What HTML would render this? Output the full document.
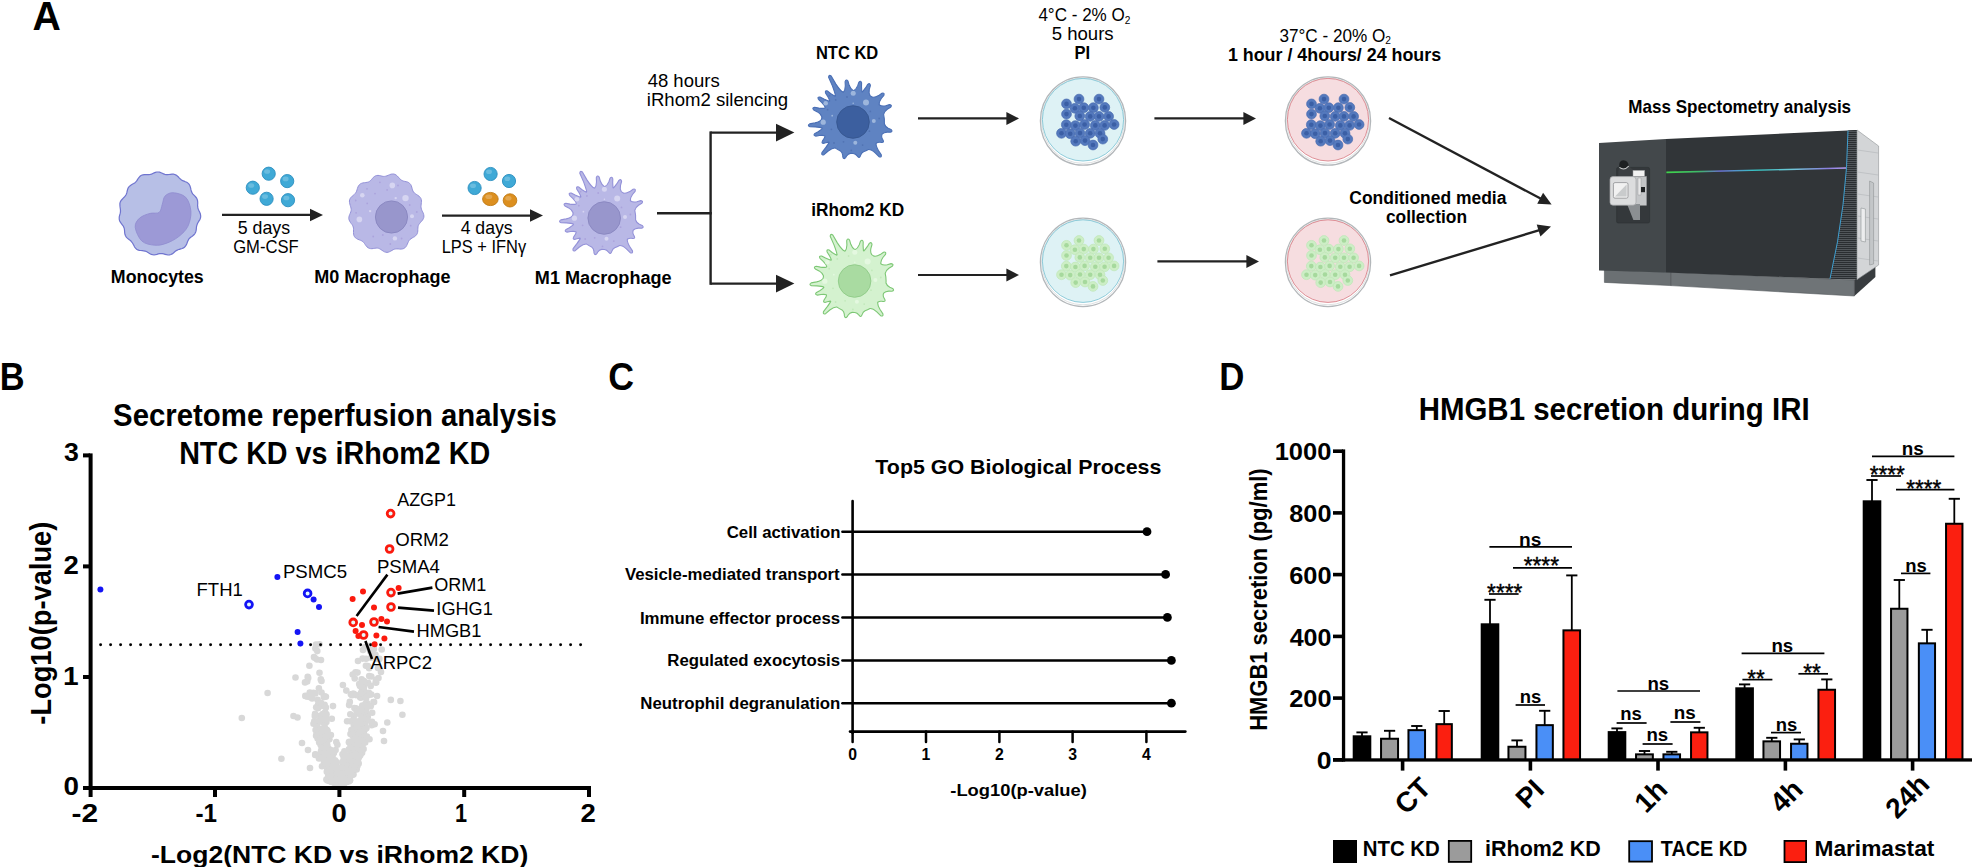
<!DOCTYPE html>
<html lang="en"><head><meta charset="utf-8"><title>Figure</title>
<style>
html,body{margin:0;padding:0;background:#fff}
body{width:1975px;height:867px;overflow:hidden}
svg{display:block}
svg text{font-family:"Liberation Sans",sans-serif}
</style></head><body>
<svg width="1975" height="867" viewBox="0 0 1975 867">
<rect width="1975" height="867" fill="#fff"/>
<g id="panelA">
<text x="32.42" y="29.8" font-size="41" font-weight="700" textLength="28.35" lengthAdjust="spacingAndGlyphs">A</text>
<path d="M200.3,213.7L200.6,215.2L200.7,216.7L200.4,218.2L199.8,219.6L199.0,220.9L198.2,222.2L197.5,223.5L197.0,224.9L196.6,226.2L196.4,227.7L196.3,229.1L196.1,230.6L195.7,232.0L195.1,233.3L194.2,234.5L193.1,235.5L191.9,236.4L190.7,237.2L189.6,238.2L188.8,239.2L188.1,240.4L187.5,241.8L187.0,243.2L186.4,244.6L185.6,245.9L184.7,247.0L183.5,247.9L182.2,248.5L180.8,248.9L179.4,249.3L178.0,249.8L176.8,250.4L175.6,251.1L174.5,252.0L173.4,253.0L172.2,253.9L170.9,254.5L169.5,254.9L168.0,255.0L166.6,254.7L165.1,254.3L163.7,253.9L162.3,253.6L160.9,253.5L159.6,253.6L158.3,253.9L156.9,254.3L155.5,254.6L154.0,254.8L152.6,254.7L151.3,254.4L150.0,253.7L148.8,253.0L147.6,252.2L146.4,251.5L145.1,251.1L143.7,250.8L142.3,250.6L140.8,250.5L139.3,250.3L137.8,249.9L136.6,249.2L135.5,248.2L134.6,247.0L133.9,245.6L133.2,244.2L132.5,243.0L131.6,241.8L130.7,240.8L129.6,239.9L128.4,239.1L127.3,238.1L126.3,237.1L125.5,235.8L125.0,234.5L124.7,233.0L124.6,231.5L124.5,230.0L124.3,228.6L123.8,227.3L123.2,226.0L122.3,224.8L121.4,223.6L120.5,222.4L119.7,221.0L119.3,219.6L119.2,218.1L119.3,216.6L119.7,215.2L120.1,213.7L120.4,212.3L120.5,210.9L120.4,209.4L120.2,207.9L120.0,206.4L119.9,204.9L119.9,203.4L120.3,202.0L121.0,200.7L122.0,199.5L123.0,198.3L124.1,197.3L125.1,196.2L125.9,195.0L126.5,193.8L126.9,192.4L127.2,191.0L127.6,189.5L128.1,188.1L128.9,186.9L129.9,185.9L131.1,185.0L132.3,184.3L133.6,183.6L134.7,182.9L135.8,181.9L136.7,180.9L137.5,179.6L138.3,178.3L139.3,177.1L140.3,176.0L141.5,175.2L142.9,174.8L144.4,174.6L145.9,174.6L147.4,174.6L148.8,174.6L150.2,174.4L151.5,174.1L152.8,173.5L154.1,172.9L155.4,172.4L156.8,172.0L158.2,172.0L159.6,172.2L161.0,172.7L162.3,173.3L163.6,173.9L164.9,174.4L166.2,174.6L167.6,174.7L169.0,174.5L170.5,174.3L172.0,174.1L173.4,174.2L174.8,174.5L176.1,175.1L177.3,176.0L178.4,177.0L179.4,178.1L180.4,179.0L181.5,179.9L182.7,180.6L184.1,181.1L185.4,181.7L186.8,182.3L188.0,183.1L189.0,184.2L189.8,185.5L190.3,186.9L190.7,188.4L191.0,189.9L191.4,191.3L192.0,192.6L192.7,193.8L193.7,194.8L194.7,195.9L195.7,197.0L196.6,198.1L197.2,199.5L197.6,200.9L197.7,202.3L197.7,203.8L197.6,205.3L197.7,206.7L197.9,208.1L198.4,209.5L199.0,210.8L199.7,212.2Z" fill="#b7bfe6" stroke="#6f74cf" stroke-width="1.2"/>
<path d="M173.1,192.7C176.5,192.9 182.7,194.2 185.7,197.3C188.7,200.4 190.5,206.3 190.9,211.1C191.3,215.9 190.0,221.9 188.0,226.1C186.0,230.3 182.5,233.6 178.8,236.5C175.2,239.4 170.1,242.0 166.1,243.4C162.1,244.8 158.6,245.6 154.6,245.2C150.6,244.8 145.1,244.1 141.9,241.1C138.7,238.1 135.6,231.1 135.2,227.3C134.8,223.5 137.1,220.4 139.6,218.1C142.1,215.8 146.7,214.3 150.0,213.4C153.3,212.5 157.1,213.9 159.2,212.4C161.2,210.9 161.3,206.9 162.3,204.2C163.3,201.5 163.2,198.0 165.0,196.1C166.8,194.2 169.7,192.5 173.1,192.7Z" fill="#9c99d6" stroke="#8f8bcf" stroke-width="0.8"/>
<ellipse cx="268.7" cy="173.7" rx="6.6" ry="6.6" fill="#3fa9d6" stroke="#2b8fbf" stroke-width="0.9"/>
<ellipse cx="267.09999999999997" cy="171.5" rx="3.0" ry="2.3" fill="#fff" opacity="0.22"/>
<ellipse cx="287.2" cy="181.1" rx="6.6" ry="6.6" fill="#3fa9d6" stroke="#2b8fbf" stroke-width="0.9"/>
<ellipse cx="285.59999999999997" cy="178.9" rx="3.0" ry="2.3" fill="#fff" opacity="0.22"/>
<ellipse cx="252.8" cy="187.7" rx="6.6" ry="6.6" fill="#3fa9d6" stroke="#2b8fbf" stroke-width="0.9"/>
<ellipse cx="251.20000000000002" cy="185.5" rx="3.0" ry="2.3" fill="#fff" opacity="0.22"/>
<ellipse cx="266.6" cy="198.8" rx="6.6" ry="6.6" fill="#3fa9d6" stroke="#2b8fbf" stroke-width="0.9"/>
<ellipse cx="265.0" cy="196.60000000000002" rx="3.0" ry="2.3" fill="#fff" opacity="0.22"/>
<ellipse cx="288" cy="200.2" rx="6.6" ry="6.6" fill="#3fa9d6" stroke="#2b8fbf" stroke-width="0.9"/>
<ellipse cx="286.4" cy="198.0" rx="3.0" ry="2.3" fill="#fff" opacity="0.22"/>
<ellipse cx="490.6" cy="174" rx="6.6" ry="6.6" fill="#3fa9d6" stroke="#2b8fbf" stroke-width="0.9"/>
<ellipse cx="489.0" cy="171.8" rx="3.0" ry="2.3" fill="#fff" opacity="0.22"/>
<ellipse cx="509" cy="181" rx="6.6" ry="6.6" fill="#3fa9d6" stroke="#2b8fbf" stroke-width="0.9"/>
<ellipse cx="507.4" cy="178.8" rx="3.0" ry="2.3" fill="#fff" opacity="0.22"/>
<ellipse cx="474.6" cy="188" rx="6.6" ry="6.6" fill="#3fa9d6" stroke="#2b8fbf" stroke-width="0.9"/>
<ellipse cx="473.0" cy="185.8" rx="3.0" ry="2.3" fill="#fff" opacity="0.22"/>
<ellipse cx="490.4" cy="199" rx="7.8" ry="6.6" fill="#dc8f1f" stroke="#c07a14" stroke-width="0.9"/>
<ellipse cx="488.79999999999995" cy="196.8" rx="3.5" ry="2.3" fill="#fff" opacity="0.22"/>
<ellipse cx="510" cy="200.4" rx="6.8" ry="6.6" fill="#dc8f1f" stroke="#c07a14" stroke-width="0.9"/>
<ellipse cx="508.4" cy="198.20000000000002" rx="3.1" ry="2.3" fill="#fff" opacity="0.22"/>
<line x1="222.0" y1="214.9" x2="311.0" y2="214.9" stroke="#222" stroke-width="2.4" stroke-linecap="butt"/>
<polygon points="323.0,214.9 310.0,221.2 310.0,208.7" fill="#222"/>
<line x1="442.0" y1="215.6" x2="531.0" y2="215.6" stroke="#222" stroke-width="2.4" stroke-linecap="butt"/>
<polygon points="543.0,215.6 530.0,221.8 530.0,209.3" fill="#222"/>
<text x="237.69" y="234.3" font-size="19" textLength="52.36" lengthAdjust="spacingAndGlyphs">5 days</text>
<text x="233.17" y="253.3" font-size="19" textLength="65.48" lengthAdjust="spacingAndGlyphs">GM-CSF</text>
<text x="460.65" y="234.0" font-size="19" textLength="51.99" lengthAdjust="spacingAndGlyphs">4 days</text>
<text x="441.69" y="253.0" font-size="19" textLength="84.41" lengthAdjust="spacingAndGlyphs">LPS + IFNγ</text>
<text x="110.84" y="283.2" font-size="18.3" font-weight="700" textLength="92.93" lengthAdjust="spacingAndGlyphs">Monocytes</text>
<text x="314.23" y="283.4" font-size="18.3" font-weight="700" textLength="136.25" lengthAdjust="spacingAndGlyphs">M0 Macrophage</text>
<text x="534.82" y="283.6" font-size="18.3" font-weight="700" textLength="136.85" lengthAdjust="spacingAndGlyphs">M1 Macrophage</text>
<path d="M423.3,213.2L423.7,214.6L423.9,216.0L423.8,217.4L423.3,218.7L422.6,220.0L421.6,221.1L420.6,222.3L419.7,223.4L418.9,224.4L418.3,225.6L418.0,226.8L417.9,228.1L417.8,229.5L417.8,231.0L417.6,232.4L417.2,233.7L416.5,234.8L415.6,235.8L414.5,236.7L413.3,237.3L412.1,238.0L411.0,238.7L410.0,239.4L409.2,240.4L408.5,241.5L407.9,242.8L407.3,244.2L406.7,245.5L405.9,246.8L404.9,247.8L403.8,248.5L402.5,248.9L401.1,249.1L399.6,249.1L398.2,248.9L396.8,248.9L395.5,249.0L394.3,249.2L393.2,249.7L392.0,250.4L390.8,251.1L389.6,251.7L388.3,252.2L387.0,252.4L385.7,252.2L384.4,251.8L383.2,251.1L382.0,250.3L380.8,249.5L379.7,248.8L378.5,248.3L377.4,248.1L376.1,248.1L374.8,248.3L373.4,248.5L371.9,248.7L370.5,248.6L369.2,248.3L368.0,247.7L367.0,246.9L366.1,245.8L365.3,244.7L364.5,243.5L363.7,242.5L362.8,241.6L361.8,240.9L360.5,240.3L359.2,239.8L357.9,239.3L356.6,238.6L355.4,237.8L354.5,236.7L353.9,235.5L353.6,234.1L353.5,232.6L353.5,231.0L353.5,229.6L353.5,228.2L353.2,226.9L352.7,225.7L352.1,224.6L351.2,223.5L350.4,222.4L349.7,221.2L349.1,219.9L348.8,218.6L348.9,217.2L349.2,215.9L349.7,214.5L350.3,213.2L350.8,211.9L351.1,210.7L351.2,209.4L351.0,208.1L350.7,206.8L350.2,205.3L349.8,203.9L349.5,202.4L349.4,201.0L349.7,199.6L350.3,198.3L351.2,197.2L352.2,196.2L353.3,195.3L354.4,194.4L355.3,193.4L356.0,192.3L356.6,191.2L357.0,189.9L357.4,188.5L357.9,187.1L358.5,185.9L359.3,184.8L360.3,183.9L361.6,183.3L362.9,182.9L364.4,182.7L365.8,182.5L367.2,182.3L368.4,182.0L369.5,181.4L370.5,180.6L371.4,179.7L372.3,178.6L373.2,177.5L374.3,176.6L375.4,175.9L376.7,175.5L378.0,175.4L379.3,175.5L380.7,175.8L382.0,176.2L383.2,176.4L384.5,176.4L385.7,176.2L387.0,175.8L388.2,175.3L389.6,174.7L391.0,174.2L392.4,174.0L393.7,174.0L395.0,174.4L396.2,175.1L397.3,176.0L398.3,177.1L399.3,178.2L400.2,179.2L401.2,180.0L402.3,180.6L403.5,181.1L404.8,181.4L406.1,181.7L407.5,182.0L408.7,182.6L409.7,183.4L410.6,184.4L411.3,185.7L411.7,187.0L412.1,188.4L412.5,189.8L412.9,191.0L413.6,192.1L414.4,193.0L415.5,193.8L416.7,194.6L417.9,195.4L419.1,196.2L420.1,197.3L420.9,198.4L421.3,199.7L421.5,201.1L421.4,202.5L421.2,204.0L421.1,205.4L421.0,206.7L421.1,208.0L421.5,209.3L422.0,210.6L422.6,211.9Z" fill="#b9b8e6" stroke="#9391d8" stroke-width="1"/>
<circle cx="392.3" cy="185.4" r="2.8" fill="#d6d5f1"/>
<circle cx="405.5" cy="198.1" r="3.2" fill="#d6d5f1"/>
<circle cx="362.3" cy="195.2" r="2.3" fill="#d6d5f1"/>
<circle cx="359.4" cy="219.4" r="2.8" fill="#d6d5f1"/>
<circle cx="412.0" cy="216.3" r="2.0" fill="#d6d5f1"/>
<circle cx="394.9" cy="238.4" r="2.2" fill="#d6d5f1"/>
<circle cx="395.7" cy="198.1" r="1.2" fill="#d6d5f1"/>
<circle cx="370.1" cy="211.1" r="1.2" fill="#d6d5f1"/>
<circle cx="375.0" cy="193.6" r="0.9" fill="#aba3dc"/>
<circle cx="387.1" cy="189.9" r="0.9" fill="#aba3dc"/>
<circle cx="367.0" cy="188.8" r="0.9" fill="#aba3dc"/>
<circle cx="367.2" cy="203.4" r="0.9" fill="#aba3dc"/>
<circle cx="409.7" cy="205.0" r="0.9" fill="#aba3dc"/>
<circle cx="416.8" cy="212.0" r="0.9" fill="#aba3dc"/>
<circle cx="410.7" cy="225.7" r="0.9" fill="#aba3dc"/>
<circle cx="401.6" cy="238.5" r="0.9" fill="#aba3dc"/>
<circle cx="390.3" cy="244.0" r="0.9" fill="#aba3dc"/>
<circle cx="373.2" cy="236.5" r="0.9" fill="#aba3dc"/>
<circle cx="382.8" cy="235.0" r="0.9" fill="#aba3dc"/>
<circle cx="356.1" cy="212.8" r="0.9" fill="#aba3dc"/>
<circle cx="355.7" cy="200.5" r="0.9" fill="#aba3dc"/>
<circle cx="379.9" cy="182.3" r="0.9" fill="#aba3dc"/>
<circle cx="398.0" cy="185.4" r="0.9" fill="#aba3dc"/>
<circle cx="391.5" cy="217" r="16.1" fill="#9896cc" stroke="#8886c0" stroke-width="0.9"/>
<path d="M634.8,210.4Q635.1,207.8 638.5,205.3L641.8,203.3Q643.8,200.9 640.7,200.6L636.9,201.7Q632.8,202.5 630.7,201.0A31.5,31.5 0 0 0 630.4,200.6Q630.0,198.1 632.5,194.5L635.1,191.4Q636.1,188.4 633.1,189.2L629.8,191.6Q626.0,193.8 623.5,193.1A31.5,31.5 0 0 0 621.3,191.6Q619.7,189.4 620.5,185.3L621.6,181.5Q621.3,178.4 618.9,180.4L616.9,183.7Q614.4,187.1 613.6,187.9A31.5,31.5 0 0 0 613.1,187.8Q612.9,186.7 612.7,182.7L612.8,178.9Q611.9,176.0 610.0,178.4L608.8,181.9Q607.2,185.6 604.9,186.5A31.5,31.5 0 0 0 604.3,186.5Q602.0,185.5 600.4,181.3L599.2,177.2Q597.3,174.7 596.3,177.7L596.5,181.9Q596.3,186.4 594.7,188.0A31.5,31.5 0 0 0 594.2,188.1Q591.6,186.9 587.1,180.1L582.4,172.0Q579.9,170.2 579.8,173.3L583.6,181.9Q586.4,189.5 586.7,191.8A31.5,31.5 0 0 0 586.3,192.1Q585.0,191.8 581.7,189.5L578.9,187.1Q576.0,186.0 576.7,189.0L578.7,192.1Q580.6,195.6 580.9,196.8A31.5,31.5 0 0 0 580.6,197.2Q579.3,196.9 575.1,195.1L571.2,193.0Q568.2,192.6 569.6,195.3L572.8,198.3Q576.0,201.6 576.3,203.4A31.5,31.5 0 0 0 576.0,203.9Q574.4,204.7 570.0,204.1L565.8,203.3Q562.8,203.7 564.9,206.0L568.7,207.9Q572.5,210.2 573.1,212.8A31.5,31.5 0 0 0 572.8,215.2Q571.4,217.6 566.2,218.9L560.8,219.9Q558.2,221.5 561.1,222.8L566.5,222.9Q571.8,223.4 573.3,224.0A31.5,31.5 0 0 0 573.4,224.6Q572.6,225.6 569.3,227.7L566.1,229.4Q563.9,231.6 567.0,232.1L570.6,231.5Q574.5,231.1 575.9,231.7A31.5,31.5 0 0 0 576.1,232.2Q576.1,233.5 574.6,235.5L573.7,236.9Q572.2,239.6 575.3,239.3L576.9,238.8Q579.3,238.3 580.0,238.1A31.5,31.5 0 0 0 580.3,238.6Q579.6,239.8 576.5,244.2L573.1,248.7Q572.3,251.7 575.2,250.7L579.4,247.0Q583.8,243.8 586.6,244.1A31.5,31.5 0 0 0 591.6,246.9Q593.6,248.4 593.9,251.1L594.0,252.9Q594.7,255.9 596.8,253.6L597.8,252.0Q599.3,249.8 601.7,249.4A31.5,31.5 0 0 0 604.5,249.5Q606.9,249.9 608.1,251.6L608.8,252.4Q610.7,254.8 611.6,251.9L612.0,250.9Q612.6,248.9 614.7,247.7A31.5,31.5 0 0 0 619.6,245.5Q622.4,245.3 626.4,248.8L630.2,252.7Q633.1,253.9 632.5,250.9L629.5,246.3Q627.0,241.7 627.3,239.4A31.5,31.5 0 0 0 627.7,239.0Q629.2,238.0 631.4,238.3L632.6,238.5Q635.7,238.8 634.2,236.0L633.6,235.0Q632.4,233.1 633.0,230.8A31.5,31.5 0 0 0 633.3,230.2Q634.9,228.2 638.5,228.1L641.5,228.2Q644.5,227.5 642.2,225.4L639.4,224.2Q636.3,222.5 635.6,220.0A31.5,31.5 0 0 0 634.8,210.4Z" fill="#b9b8e6" stroke="#9391d8" stroke-width="1.1" stroke-linejoin="round"/>
<circle cx="604.4" cy="189.2" r="2.5" fill="#d6d5f1"/>
<circle cx="617.2" cy="198.4" r="3.0" fill="#d6d5f1"/>
<circle cx="576.9" cy="199.2" r="2.3" fill="#d6d5f1"/>
<circle cx="574.4" cy="218.2" r="2.6" fill="#d6d5f1"/>
<circle cx="625.0" cy="217.1" r="2.0" fill="#d6d5f1"/>
<circle cx="606.5" cy="238.8" r="2.0" fill="#d6d5f1"/>
<circle cx="604.4" cy="199.3" r="0.8" fill="#d6d5f1"/>
<circle cx="583.4" cy="211.7" r="0.9" fill="#d6d5f1"/>
<circle cx="598.2" cy="193.0" r="0.9" fill="#aba3dc"/>
<circle cx="586.9" cy="195.9" r="0.9" fill="#aba3dc"/>
<circle cx="578.8" cy="205.7" r="0.9" fill="#aba3dc"/>
<circle cx="621.5" cy="207.4" r="0.9" fill="#aba3dc"/>
<circle cx="630.4" cy="214.5" r="0.9" fill="#aba3dc"/>
<circle cx="620.6" cy="227.2" r="0.9" fill="#aba3dc"/>
<circle cx="594.7" cy="237.8" r="0.9" fill="#aba3dc"/>
<circle cx="585.2" cy="239.0" r="0.9" fill="#aba3dc"/>
<circle cx="613.8" cy="241.1" r="0.9" fill="#aba3dc"/>
<circle cx="602.5" cy="246.4" r="0.9" fill="#aba3dc"/>
<circle cx="580.6" cy="191.7" r="0.9" fill="#aba3dc"/>
<circle cx="582.6" cy="225.3" r="0.9" fill="#aba3dc"/>
<circle cx="604.2" cy="218" r="16.3" fill="#9896cc" stroke="#8886c0" stroke-width="0.9"/>
<path d="M883.6,114.4Q883.9,111.8 887.3,109.3L890.6,107.3Q892.6,104.9 889.5,104.6L885.7,105.7Q881.6,106.5 879.5,105.0A31.5,31.5 0 0 0 879.2,104.6Q878.8,102.1 881.3,98.5L883.9,95.4Q884.9,92.4 881.9,93.2L878.6,95.6Q874.8,97.8 872.3,97.1A31.5,31.5 0 0 0 870.1,95.6Q868.5,93.4 869.3,89.3L870.4,85.5Q870.1,82.4 867.7,84.4L865.7,87.7Q863.2,91.1 862.4,91.9A31.5,31.5 0 0 0 861.9,91.8Q861.7,90.7 861.5,86.7L861.6,82.9Q860.7,80.0 858.8,82.4L857.6,85.9Q856.0,89.6 853.7,90.5A31.5,31.5 0 0 0 853.1,90.5Q850.8,89.5 849.2,85.3L848.0,81.2Q846.1,78.7 845.1,81.7L845.3,85.9Q845.1,90.4 843.5,92.0A31.5,31.5 0 0 0 843.0,92.1Q840.4,90.9 835.9,84.1L831.2,76.0Q828.7,74.2 828.6,77.3L832.4,85.9Q835.2,93.5 835.5,95.8A31.5,31.5 0 0 0 835.1,96.1Q833.8,95.8 830.5,93.5L827.7,91.1Q824.8,90.0 825.5,93.0L827.5,96.1Q829.4,99.6 829.7,100.8A31.5,31.5 0 0 0 829.4,101.2Q828.1,100.9 823.9,99.1L820.0,97.0Q817.0,96.6 818.4,99.3L821.6,102.3Q824.8,105.6 825.1,107.4A31.5,31.5 0 0 0 824.8,107.9Q823.2,108.7 818.8,108.1L814.6,107.3Q811.6,107.7 813.7,110.0L817.5,111.9Q821.3,114.2 821.9,116.8A31.5,31.5 0 0 0 821.6,119.2Q820.2,121.6 815.0,122.9L809.6,123.9Q807.0,125.5 809.9,126.8L815.3,126.9Q820.6,127.4 822.1,128.0A31.5,31.5 0 0 0 822.2,128.6Q821.4,129.6 818.1,131.7L814.9,133.4Q812.7,135.6 815.8,136.1L819.4,135.5Q823.3,135.1 824.7,135.7A31.5,31.5 0 0 0 824.9,136.2Q824.9,137.5 823.4,139.5L822.5,140.9Q821.0,143.6 824.1,143.3L825.7,142.8Q828.1,142.3 828.8,142.1A31.5,31.5 0 0 0 829.1,142.6Q828.4,143.8 825.3,148.2L821.9,152.7Q821.1,155.7 824.0,154.7L828.2,151.0Q832.6,147.8 835.4,148.1A31.5,31.5 0 0 0 840.4,150.9Q842.4,152.4 842.7,155.1L842.8,156.9Q843.5,159.9 845.6,157.6L846.6,156.0Q848.1,153.8 850.5,153.4A31.5,31.5 0 0 0 853.3,153.5Q855.7,153.9 856.9,155.6L857.6,156.4Q859.5,158.8 860.4,155.9L860.8,154.9Q861.4,152.9 863.5,151.7A31.5,31.5 0 0 0 868.4,149.5Q871.2,149.3 875.2,152.8L879.0,156.7Q881.9,157.9 881.3,154.9L878.3,150.3Q875.8,145.7 876.1,143.4A31.5,31.5 0 0 0 876.5,143.0Q878.0,142.0 880.2,142.3L881.4,142.5Q884.5,142.8 883.0,140.0L882.4,139.0Q881.2,137.1 881.8,134.8A31.5,31.5 0 0 0 882.1,134.2Q883.7,132.2 887.3,132.1L890.3,132.2Q893.3,131.5 891.0,129.4L888.2,128.2Q885.1,126.5 884.4,124.0A31.5,31.5 0 0 0 883.6,114.4Z" fill="#5f83c2" stroke="#4a6fb5" stroke-width="1.1" stroke-linejoin="round"/>
<circle cx="853.2" cy="93.2" r="2.5" fill="#9db6dc"/>
<circle cx="866.0" cy="102.4" r="3.0" fill="#9db6dc"/>
<circle cx="825.7" cy="103.2" r="2.3" fill="#9db6dc"/>
<circle cx="823.2" cy="122.2" r="2.6" fill="#9db6dc"/>
<circle cx="873.8" cy="121.1" r="2.0" fill="#9db6dc"/>
<circle cx="855.3" cy="142.8" r="2.0" fill="#9db6dc"/>
<circle cx="853.2" cy="103.3" r="0.8" fill="#9db6dc"/>
<circle cx="832.2" cy="115.7" r="0.9" fill="#9db6dc"/>
<circle cx="847.0" cy="97.0" r="0.9" fill="#5173b3"/>
<circle cx="835.7" cy="99.9" r="0.9" fill="#5173b3"/>
<circle cx="827.6" cy="109.7" r="0.9" fill="#5173b3"/>
<circle cx="870.3" cy="111.4" r="0.9" fill="#5173b3"/>
<circle cx="879.2" cy="118.5" r="0.9" fill="#5173b3"/>
<circle cx="869.4" cy="131.2" r="0.9" fill="#5173b3"/>
<circle cx="843.5" cy="141.8" r="0.9" fill="#5173b3"/>
<circle cx="834.0" cy="143.0" r="0.9" fill="#5173b3"/>
<circle cx="862.6" cy="145.1" r="0.9" fill="#5173b3"/>
<circle cx="851.3" cy="150.4" r="0.9" fill="#5173b3"/>
<circle cx="829.4" cy="95.7" r="0.9" fill="#5173b3"/>
<circle cx="831.4" cy="129.3" r="0.9" fill="#5173b3"/>
<circle cx="853" cy="122" r="16.3" fill="#3c5f9f" stroke="#35568f" stroke-width="0.9"/>
<path d="M885.2,273.4Q885.5,270.8 888.9,268.3L892.2,266.3Q894.2,263.9 891.1,263.6L887.3,264.7Q883.2,265.5 881.1,264.0A31.5,31.5 0 0 0 880.8,263.6Q880.4,261.1 882.9,257.5L885.5,254.4Q886.5,251.4 883.5,252.2L880.2,254.6Q876.4,256.8 873.9,256.1A31.5,31.5 0 0 0 871.7,254.6Q870.1,252.4 870.9,248.3L872.0,244.5Q871.7,241.4 869.3,243.4L867.3,246.7Q864.8,250.1 864.0,250.9A31.5,31.5 0 0 0 863.5,250.8Q863.3,249.7 863.1,245.7L863.2,241.9Q862.3,239.0 860.4,241.4L859.2,244.9Q857.6,248.6 855.3,249.5A31.5,31.5 0 0 0 854.7,249.5Q852.4,248.5 850.8,244.3L849.6,240.2Q847.7,237.7 846.7,240.7L846.9,244.9Q846.7,249.4 845.1,251.0A31.5,31.5 0 0 0 844.6,251.1Q842.0,249.9 837.5,243.1L832.8,235.0Q830.3,233.2 830.2,236.3L834.0,244.9Q836.8,252.5 837.1,254.8A31.5,31.5 0 0 0 836.7,255.1Q835.4,254.8 832.1,252.5L829.3,250.1Q826.4,249.0 827.1,252.0L829.1,255.1Q831.0,258.6 831.3,259.8A31.5,31.5 0 0 0 831.0,260.2Q829.7,259.9 825.5,258.1L821.6,256.0Q818.6,255.6 820.0,258.3L823.2,261.3Q826.4,264.6 826.7,266.4A31.5,31.5 0 0 0 826.4,266.9Q824.8,267.7 820.4,267.1L816.2,266.3Q813.2,266.7 815.3,269.0L819.1,270.9Q822.9,273.2 823.5,275.8A31.5,31.5 0 0 0 823.2,278.2Q821.8,280.6 816.6,281.9L811.2,282.9Q808.6,284.5 811.5,285.8L816.9,285.9Q822.2,286.4 823.7,287.0A31.5,31.5 0 0 0 823.8,287.6Q823.0,288.6 819.7,290.7L816.5,292.4Q814.3,294.6 817.4,295.1L821.0,294.5Q824.9,294.1 826.3,294.7A31.5,31.5 0 0 0 826.5,295.2Q826.5,296.5 825.0,298.5L824.1,299.9Q822.6,302.6 825.7,302.3L827.3,301.8Q829.7,301.3 830.4,301.1A31.5,31.5 0 0 0 830.7,301.6Q830.0,302.8 826.9,307.2L823.5,311.7Q822.7,314.7 825.6,313.7L829.8,310.0Q834.2,306.8 837.0,307.1A31.5,31.5 0 0 0 842.0,309.9Q844.0,311.4 844.3,314.1L844.4,315.9Q845.1,318.9 847.2,316.6L848.2,315.0Q849.7,312.8 852.1,312.4A31.5,31.5 0 0 0 854.9,312.5Q857.3,312.9 858.5,314.6L859.2,315.4Q861.1,317.8 862.0,314.9L862.4,313.9Q863.0,311.9 865.1,310.7A31.5,31.5 0 0 0 870.0,308.5Q872.8,308.3 876.8,311.8L880.6,315.7Q883.5,316.9 882.9,313.9L879.9,309.3Q877.4,304.7 877.7,302.4A31.5,31.5 0 0 0 878.1,302.0Q879.6,301.0 881.8,301.3L883.0,301.5Q886.1,301.8 884.6,299.0L884.0,298.0Q882.8,296.1 883.4,293.8A31.5,31.5 0 0 0 883.7,293.2Q885.3,291.2 888.9,291.1L891.9,291.2Q894.9,290.5 892.6,288.4L889.8,287.2Q886.7,285.5 886.0,283.0A31.5,31.5 0 0 0 885.2,273.4Z" fill="#d4f2cf" stroke="#7dc775" stroke-width="1.1" stroke-linejoin="round"/>
<circle cx="854.8" cy="252.2" r="2.5" fill="#e4f8e0"/>
<circle cx="867.6" cy="261.4" r="3.0" fill="#e4f8e0"/>
<circle cx="827.3" cy="262.2" r="2.3" fill="#e4f8e0"/>
<circle cx="824.8" cy="281.2" r="2.6" fill="#e4f8e0"/>
<circle cx="875.4" cy="280.1" r="2.0" fill="#e4f8e0"/>
<circle cx="856.9" cy="301.8" r="2.0" fill="#e4f8e0"/>
<circle cx="854.8" cy="262.3" r="0.8" fill="#e4f8e0"/>
<circle cx="833.8" cy="274.7" r="0.9" fill="#e4f8e0"/>
<circle cx="848.6" cy="256.0" r="0.9" fill="#c2e9bb"/>
<circle cx="837.3" cy="258.9" r="0.9" fill="#c2e9bb"/>
<circle cx="829.2" cy="268.7" r="0.9" fill="#c2e9bb"/>
<circle cx="871.9" cy="270.4" r="0.9" fill="#c2e9bb"/>
<circle cx="880.8" cy="277.5" r="0.9" fill="#c2e9bb"/>
<circle cx="871.0" cy="290.2" r="0.9" fill="#c2e9bb"/>
<circle cx="845.1" cy="300.8" r="0.9" fill="#c2e9bb"/>
<circle cx="835.6" cy="302.0" r="0.9" fill="#c2e9bb"/>
<circle cx="864.2" cy="304.1" r="0.9" fill="#c2e9bb"/>
<circle cx="852.9" cy="309.4" r="0.9" fill="#c2e9bb"/>
<circle cx="831.0" cy="254.7" r="0.9" fill="#c2e9bb"/>
<circle cx="833.0" cy="288.3" r="0.9" fill="#c2e9bb"/>
<circle cx="854.6" cy="281" r="16.3" fill="#a9dba1" stroke="#8fcb87" stroke-width="0.9"/>
<line x1="657.0" y1="213.2" x2="711.8" y2="213.2" stroke="#222" stroke-width="2.4" stroke-linecap="butt"/>
<line x1="710.6" y1="131.4" x2="710.6" y2="284.8" stroke="#222" stroke-width="2.4" stroke-linecap="butt"/>
<line x1="710.6" y1="132.6" x2="777.0" y2="132.6" stroke="#222" stroke-width="2.4" stroke-linecap="butt"/>
<polygon points="794.4,132.6 776.0,141.4 776.0,123.8" fill="#222"/>
<line x1="710.6" y1="283.6" x2="777.0" y2="283.6" stroke="#222" stroke-width="2.4" stroke-linecap="butt"/>
<polygon points="794.4,283.6 776.0,292.4 776.0,274.8" fill="#222"/>
<text x="647.63" y="87.4" font-size="19" textLength="72.05" lengthAdjust="spacingAndGlyphs">48 hours</text>
<text x="646.79" y="106.4" font-size="19" textLength="141.41" lengthAdjust="spacingAndGlyphs">iRhom2 silencing</text>
<text x="815.93" y="59.0" font-size="18.3" font-weight="700" textLength="62.37" lengthAdjust="spacingAndGlyphs">NTC KD</text>
<text x="811.19" y="216.0" font-size="18.3" font-weight="700" textLength="92.97" lengthAdjust="spacingAndGlyphs">iRhom2 KD</text>
<line x1="918.0" y1="118.4" x2="1007.4" y2="118.4" stroke="#222" stroke-width="2.2" stroke-linecap="butt"/>
<polygon points="1019.0,118.4 1006.4,124.9 1006.4,111.9" fill="#222"/>
<line x1="1154.4" y1="118.4" x2="1244.4" y2="118.4" stroke="#222" stroke-width="2.2" stroke-linecap="butt"/>
<polygon points="1256.0,118.4 1243.4,124.9 1243.4,111.9" fill="#222"/>
<line x1="918.0" y1="275.0" x2="1007.4" y2="275.0" stroke="#222" stroke-width="2.2" stroke-linecap="butt"/>
<polygon points="1019.0,275.0 1006.4,281.5 1006.4,268.5" fill="#222"/>
<line x1="1157.4" y1="261.4" x2="1247.4" y2="261.4" stroke="#222" stroke-width="2.2" stroke-linecap="butt"/>
<polygon points="1259.0,261.4 1246.4,267.9 1246.4,254.9" fill="#222"/>
<line x1="1389.0" y1="118.0" x2="1541.0" y2="198.8" stroke="#222" stroke-width="2.4" stroke-linecap="butt"/>
<polygon points="1551.6,204.4 1537.2,203.8 1543.1,192.8" fill="#222"/>
<line x1="1390.0" y1="275.4" x2="1539.5" y2="230.1" stroke="#222" stroke-width="2.4" stroke-linecap="butt"/>
<polygon points="1551.0,226.6 1540.4,236.4 1536.7,224.4" fill="#222"/>
<ellipse cx="1083" cy="121" rx="42.6" ry="44.2" fill="#fff" stroke="#b3b7ba" stroke-width="1.3"/>
<ellipse cx="1083" cy="120.6" rx="41.4" ry="42.8" fill="none" stroke="#d5d9db" stroke-width="0.8"/>
<ellipse cx="1083" cy="119.7" rx="40.6" ry="41.3" fill="#def2f5" stroke="#74bfd0" stroke-width="0.8"/>
<circle cx="1079.0" cy="99.1" r="4.9" fill="#5479bd" stroke="#4a6db0" stroke-width="0.7"/>
<circle cx="1099.0" cy="99.1" r="4.9" fill="#5479bd" stroke="#4a6db0" stroke-width="0.7"/>
<circle cx="1066.5" cy="103.9" r="4.9" fill="#5479bd" stroke="#4a6db0" stroke-width="0.7"/>
<circle cx="1074.9" cy="108.3" r="4.9" fill="#5479bd" stroke="#4a6db0" stroke-width="0.7"/>
<circle cx="1083.8" cy="107.7" r="4.9" fill="#5479bd" stroke="#4a6db0" stroke-width="0.7"/>
<circle cx="1093.4" cy="107.7" r="4.9" fill="#5479bd" stroke="#4a6db0" stroke-width="0.7"/>
<circle cx="1104.8" cy="107.4" r="4.9" fill="#5479bd" stroke="#4a6db0" stroke-width="0.7"/>
<circle cx="1066.5" cy="114.1" r="4.9" fill="#5479bd" stroke="#4a6db0" stroke-width="0.7"/>
<circle cx="1079.8" cy="116.0" r="4.9" fill="#5479bd" stroke="#4a6db0" stroke-width="0.7"/>
<circle cx="1090.2" cy="116.4" r="4.9" fill="#5479bd" stroke="#4a6db0" stroke-width="0.7"/>
<circle cx="1099.0" cy="116.4" r="4.9" fill="#5479bd" stroke="#4a6db0" stroke-width="0.7"/>
<circle cx="1108.6" cy="116.4" r="4.9" fill="#5479bd" stroke="#4a6db0" stroke-width="0.7"/>
<circle cx="1066.3" cy="124.7" r="4.9" fill="#5479bd" stroke="#4a6db0" stroke-width="0.7"/>
<circle cx="1075.4" cy="125.6" r="4.9" fill="#5479bd" stroke="#4a6db0" stroke-width="0.7"/>
<circle cx="1084.6" cy="124.5" r="4.9" fill="#5479bd" stroke="#4a6db0" stroke-width="0.7"/>
<circle cx="1095.3" cy="125.4" r="4.9" fill="#5479bd" stroke="#4a6db0" stroke-width="0.7"/>
<circle cx="1104.6" cy="125.4" r="4.9" fill="#5479bd" stroke="#4a6db0" stroke-width="0.7"/>
<circle cx="1114.1" cy="124.5" r="4.9" fill="#5479bd" stroke="#4a6db0" stroke-width="0.7"/>
<circle cx="1061.5" cy="133.3" r="4.9" fill="#5479bd" stroke="#4a6db0" stroke-width="0.7"/>
<circle cx="1070.2" cy="133.7" r="4.9" fill="#5479bd" stroke="#4a6db0" stroke-width="0.7"/>
<circle cx="1080.0" cy="133.1" r="4.9" fill="#5479bd" stroke="#4a6db0" stroke-width="0.7"/>
<circle cx="1090.2" cy="133.3" r="4.9" fill="#5479bd" stroke="#4a6db0" stroke-width="0.7"/>
<circle cx="1100.0" cy="133.3" r="4.9" fill="#5479bd" stroke="#4a6db0" stroke-width="0.7"/>
<circle cx="1075.7" cy="141.2" r="4.9" fill="#5479bd" stroke="#4a6db0" stroke-width="0.7"/>
<circle cx="1085.0" cy="140.6" r="4.9" fill="#5479bd" stroke="#4a6db0" stroke-width="0.7"/>
<circle cx="1102.8" cy="139.1" r="4.9" fill="#5479bd" stroke="#4a6db0" stroke-width="0.7"/>
<circle cx="1093.0" cy="145.0" r="4.9" fill="#5479bd" stroke="#4a6db0" stroke-width="0.7"/>
<circle cx="1079.0" cy="99.1" r="2.3" fill="#3b5fa5"/>
<circle cx="1099.0" cy="99.1" r="2.3" fill="#3b5fa5"/>
<circle cx="1066.5" cy="103.9" r="2.3" fill="#3b5fa5"/>
<circle cx="1074.9" cy="108.3" r="2.3" fill="#3b5fa5"/>
<circle cx="1083.8" cy="107.7" r="2.3" fill="#3b5fa5"/>
<circle cx="1093.4" cy="107.7" r="2.3" fill="#3b5fa5"/>
<circle cx="1104.8" cy="107.4" r="2.3" fill="#3b5fa5"/>
<circle cx="1066.5" cy="114.1" r="2.3" fill="#3b5fa5"/>
<circle cx="1079.8" cy="116.0" r="2.3" fill="#3b5fa5"/>
<circle cx="1090.2" cy="116.4" r="2.3" fill="#3b5fa5"/>
<circle cx="1099.0" cy="116.4" r="2.3" fill="#3b5fa5"/>
<circle cx="1108.6" cy="116.4" r="2.3" fill="#3b5fa5"/>
<circle cx="1066.3" cy="124.7" r="2.3" fill="#3b5fa5"/>
<circle cx="1075.4" cy="125.6" r="2.3" fill="#3b5fa5"/>
<circle cx="1084.6" cy="124.5" r="2.3" fill="#3b5fa5"/>
<circle cx="1095.3" cy="125.4" r="2.3" fill="#3b5fa5"/>
<circle cx="1104.6" cy="125.4" r="2.3" fill="#3b5fa5"/>
<circle cx="1114.1" cy="124.5" r="2.3" fill="#3b5fa5"/>
<circle cx="1061.5" cy="133.3" r="2.3" fill="#3b5fa5"/>
<circle cx="1070.2" cy="133.7" r="2.3" fill="#3b5fa5"/>
<circle cx="1080.0" cy="133.1" r="2.3" fill="#3b5fa5"/>
<circle cx="1090.2" cy="133.3" r="2.3" fill="#3b5fa5"/>
<circle cx="1100.0" cy="133.3" r="2.3" fill="#3b5fa5"/>
<circle cx="1075.7" cy="141.2" r="2.3" fill="#3b5fa5"/>
<circle cx="1085.0" cy="140.6" r="2.3" fill="#3b5fa5"/>
<circle cx="1102.8" cy="139.1" r="2.3" fill="#3b5fa5"/>
<circle cx="1093.0" cy="145.0" r="2.3" fill="#3b5fa5"/>
<ellipse cx="1328" cy="121" rx="42.6" ry="44.2" fill="#fff" stroke="#b3b7ba" stroke-width="1.3"/>
<ellipse cx="1328" cy="120.6" rx="41.4" ry="42.8" fill="none" stroke="#d5d9db" stroke-width="0.8"/>
<ellipse cx="1328" cy="119.7" rx="40.6" ry="41.3" fill="#f6dde0" stroke="#d6757e" stroke-width="0.8"/>
<circle cx="1324.0" cy="99.1" r="4.9" fill="#5479bd" stroke="#4a6db0" stroke-width="0.7"/>
<circle cx="1344.0" cy="99.1" r="4.9" fill="#5479bd" stroke="#4a6db0" stroke-width="0.7"/>
<circle cx="1311.5" cy="103.9" r="4.9" fill="#5479bd" stroke="#4a6db0" stroke-width="0.7"/>
<circle cx="1319.9" cy="108.3" r="4.9" fill="#5479bd" stroke="#4a6db0" stroke-width="0.7"/>
<circle cx="1328.8" cy="107.7" r="4.9" fill="#5479bd" stroke="#4a6db0" stroke-width="0.7"/>
<circle cx="1338.4" cy="107.7" r="4.9" fill="#5479bd" stroke="#4a6db0" stroke-width="0.7"/>
<circle cx="1349.8" cy="107.4" r="4.9" fill="#5479bd" stroke="#4a6db0" stroke-width="0.7"/>
<circle cx="1311.5" cy="114.1" r="4.9" fill="#5479bd" stroke="#4a6db0" stroke-width="0.7"/>
<circle cx="1324.8" cy="116.0" r="4.9" fill="#5479bd" stroke="#4a6db0" stroke-width="0.7"/>
<circle cx="1335.2" cy="116.4" r="4.9" fill="#5479bd" stroke="#4a6db0" stroke-width="0.7"/>
<circle cx="1344.0" cy="116.4" r="4.9" fill="#5479bd" stroke="#4a6db0" stroke-width="0.7"/>
<circle cx="1353.6" cy="116.4" r="4.9" fill="#5479bd" stroke="#4a6db0" stroke-width="0.7"/>
<circle cx="1311.3" cy="124.7" r="4.9" fill="#5479bd" stroke="#4a6db0" stroke-width="0.7"/>
<circle cx="1320.4" cy="125.6" r="4.9" fill="#5479bd" stroke="#4a6db0" stroke-width="0.7"/>
<circle cx="1329.6" cy="124.5" r="4.9" fill="#5479bd" stroke="#4a6db0" stroke-width="0.7"/>
<circle cx="1340.3" cy="125.4" r="4.9" fill="#5479bd" stroke="#4a6db0" stroke-width="0.7"/>
<circle cx="1349.6" cy="125.4" r="4.9" fill="#5479bd" stroke="#4a6db0" stroke-width="0.7"/>
<circle cx="1359.1" cy="124.5" r="4.9" fill="#5479bd" stroke="#4a6db0" stroke-width="0.7"/>
<circle cx="1306.5" cy="133.3" r="4.9" fill="#5479bd" stroke="#4a6db0" stroke-width="0.7"/>
<circle cx="1315.2" cy="133.7" r="4.9" fill="#5479bd" stroke="#4a6db0" stroke-width="0.7"/>
<circle cx="1325.0" cy="133.1" r="4.9" fill="#5479bd" stroke="#4a6db0" stroke-width="0.7"/>
<circle cx="1335.2" cy="133.3" r="4.9" fill="#5479bd" stroke="#4a6db0" stroke-width="0.7"/>
<circle cx="1345.0" cy="133.3" r="4.9" fill="#5479bd" stroke="#4a6db0" stroke-width="0.7"/>
<circle cx="1320.7" cy="141.2" r="4.9" fill="#5479bd" stroke="#4a6db0" stroke-width="0.7"/>
<circle cx="1330.0" cy="140.6" r="4.9" fill="#5479bd" stroke="#4a6db0" stroke-width="0.7"/>
<circle cx="1347.8" cy="139.1" r="4.9" fill="#5479bd" stroke="#4a6db0" stroke-width="0.7"/>
<circle cx="1338.0" cy="145.0" r="4.9" fill="#5479bd" stroke="#4a6db0" stroke-width="0.7"/>
<circle cx="1324.0" cy="99.1" r="2.3" fill="#3b5fa5"/>
<circle cx="1344.0" cy="99.1" r="2.3" fill="#3b5fa5"/>
<circle cx="1311.5" cy="103.9" r="2.3" fill="#3b5fa5"/>
<circle cx="1319.9" cy="108.3" r="2.3" fill="#3b5fa5"/>
<circle cx="1328.8" cy="107.7" r="2.3" fill="#3b5fa5"/>
<circle cx="1338.4" cy="107.7" r="2.3" fill="#3b5fa5"/>
<circle cx="1349.8" cy="107.4" r="2.3" fill="#3b5fa5"/>
<circle cx="1311.5" cy="114.1" r="2.3" fill="#3b5fa5"/>
<circle cx="1324.8" cy="116.0" r="2.3" fill="#3b5fa5"/>
<circle cx="1335.2" cy="116.4" r="2.3" fill="#3b5fa5"/>
<circle cx="1344.0" cy="116.4" r="2.3" fill="#3b5fa5"/>
<circle cx="1353.6" cy="116.4" r="2.3" fill="#3b5fa5"/>
<circle cx="1311.3" cy="124.7" r="2.3" fill="#3b5fa5"/>
<circle cx="1320.4" cy="125.6" r="2.3" fill="#3b5fa5"/>
<circle cx="1329.6" cy="124.5" r="2.3" fill="#3b5fa5"/>
<circle cx="1340.3" cy="125.4" r="2.3" fill="#3b5fa5"/>
<circle cx="1349.6" cy="125.4" r="2.3" fill="#3b5fa5"/>
<circle cx="1359.1" cy="124.5" r="2.3" fill="#3b5fa5"/>
<circle cx="1306.5" cy="133.3" r="2.3" fill="#3b5fa5"/>
<circle cx="1315.2" cy="133.7" r="2.3" fill="#3b5fa5"/>
<circle cx="1325.0" cy="133.1" r="2.3" fill="#3b5fa5"/>
<circle cx="1335.2" cy="133.3" r="2.3" fill="#3b5fa5"/>
<circle cx="1345.0" cy="133.3" r="2.3" fill="#3b5fa5"/>
<circle cx="1320.7" cy="141.2" r="2.3" fill="#3b5fa5"/>
<circle cx="1330.0" cy="140.6" r="2.3" fill="#3b5fa5"/>
<circle cx="1347.8" cy="139.1" r="2.3" fill="#3b5fa5"/>
<circle cx="1338.0" cy="145.0" r="2.3" fill="#3b5fa5"/>
<ellipse cx="1083" cy="262.4" rx="42.6" ry="44.2" fill="#fff" stroke="#b3b7ba" stroke-width="1.3"/>
<ellipse cx="1083" cy="262.0" rx="41.4" ry="42.8" fill="none" stroke="#d5d9db" stroke-width="0.8"/>
<ellipse cx="1083" cy="261.09999999999997" rx="40.6" ry="41.3" fill="#def2f5" stroke="#74bfd0" stroke-width="0.8"/>
<circle cx="1079.0" cy="240.5" r="4.9" fill="#cdeec6" stroke="#bfe6b8" stroke-width="0.7"/>
<circle cx="1099.0" cy="240.5" r="4.9" fill="#cdeec6" stroke="#bfe6b8" stroke-width="0.7"/>
<circle cx="1066.5" cy="245.3" r="4.9" fill="#cdeec6" stroke="#bfe6b8" stroke-width="0.7"/>
<circle cx="1074.9" cy="249.7" r="4.9" fill="#cdeec6" stroke="#bfe6b8" stroke-width="0.7"/>
<circle cx="1083.8" cy="249.1" r="4.9" fill="#cdeec6" stroke="#bfe6b8" stroke-width="0.7"/>
<circle cx="1093.4" cy="249.1" r="4.9" fill="#cdeec6" stroke="#bfe6b8" stroke-width="0.7"/>
<circle cx="1104.8" cy="248.8" r="4.9" fill="#cdeec6" stroke="#bfe6b8" stroke-width="0.7"/>
<circle cx="1066.5" cy="255.5" r="4.9" fill="#cdeec6" stroke="#bfe6b8" stroke-width="0.7"/>
<circle cx="1079.8" cy="257.4" r="4.9" fill="#cdeec6" stroke="#bfe6b8" stroke-width="0.7"/>
<circle cx="1090.2" cy="257.8" r="4.9" fill="#cdeec6" stroke="#bfe6b8" stroke-width="0.7"/>
<circle cx="1099.0" cy="257.8" r="4.9" fill="#cdeec6" stroke="#bfe6b8" stroke-width="0.7"/>
<circle cx="1108.6" cy="257.8" r="4.9" fill="#cdeec6" stroke="#bfe6b8" stroke-width="0.7"/>
<circle cx="1066.3" cy="266.1" r="4.9" fill="#cdeec6" stroke="#bfe6b8" stroke-width="0.7"/>
<circle cx="1075.4" cy="267.0" r="4.9" fill="#cdeec6" stroke="#bfe6b8" stroke-width="0.7"/>
<circle cx="1084.6" cy="265.9" r="4.9" fill="#cdeec6" stroke="#bfe6b8" stroke-width="0.7"/>
<circle cx="1095.3" cy="266.8" r="4.9" fill="#cdeec6" stroke="#bfe6b8" stroke-width="0.7"/>
<circle cx="1104.6" cy="266.8" r="4.9" fill="#cdeec6" stroke="#bfe6b8" stroke-width="0.7"/>
<circle cx="1114.1" cy="265.9" r="4.9" fill="#cdeec6" stroke="#bfe6b8" stroke-width="0.7"/>
<circle cx="1061.5" cy="274.7" r="4.9" fill="#cdeec6" stroke="#bfe6b8" stroke-width="0.7"/>
<circle cx="1070.2" cy="275.1" r="4.9" fill="#cdeec6" stroke="#bfe6b8" stroke-width="0.7"/>
<circle cx="1080.0" cy="274.5" r="4.9" fill="#cdeec6" stroke="#bfe6b8" stroke-width="0.7"/>
<circle cx="1090.2" cy="274.7" r="4.9" fill="#cdeec6" stroke="#bfe6b8" stroke-width="0.7"/>
<circle cx="1100.0" cy="274.7" r="4.9" fill="#cdeec6" stroke="#bfe6b8" stroke-width="0.7"/>
<circle cx="1075.7" cy="282.6" r="4.9" fill="#cdeec6" stroke="#bfe6b8" stroke-width="0.7"/>
<circle cx="1085.0" cy="282.0" r="4.9" fill="#cdeec6" stroke="#bfe6b8" stroke-width="0.7"/>
<circle cx="1102.8" cy="280.5" r="4.9" fill="#cdeec6" stroke="#bfe6b8" stroke-width="0.7"/>
<circle cx="1093.0" cy="286.4" r="4.9" fill="#cdeec6" stroke="#bfe6b8" stroke-width="0.7"/>
<circle cx="1079.0" cy="240.5" r="2.3" fill="#a6d99d"/>
<circle cx="1099.0" cy="240.5" r="2.3" fill="#a6d99d"/>
<circle cx="1066.5" cy="245.3" r="2.3" fill="#a6d99d"/>
<circle cx="1074.9" cy="249.7" r="2.3" fill="#a6d99d"/>
<circle cx="1083.8" cy="249.1" r="2.3" fill="#a6d99d"/>
<circle cx="1093.4" cy="249.1" r="2.3" fill="#a6d99d"/>
<circle cx="1104.8" cy="248.8" r="2.3" fill="#a6d99d"/>
<circle cx="1066.5" cy="255.5" r="2.3" fill="#a6d99d"/>
<circle cx="1079.8" cy="257.4" r="2.3" fill="#a6d99d"/>
<circle cx="1090.2" cy="257.8" r="2.3" fill="#a6d99d"/>
<circle cx="1099.0" cy="257.8" r="2.3" fill="#a6d99d"/>
<circle cx="1108.6" cy="257.8" r="2.3" fill="#a6d99d"/>
<circle cx="1066.3" cy="266.1" r="2.3" fill="#a6d99d"/>
<circle cx="1075.4" cy="267.0" r="2.3" fill="#a6d99d"/>
<circle cx="1084.6" cy="265.9" r="2.3" fill="#a6d99d"/>
<circle cx="1095.3" cy="266.8" r="2.3" fill="#a6d99d"/>
<circle cx="1104.6" cy="266.8" r="2.3" fill="#a6d99d"/>
<circle cx="1114.1" cy="265.9" r="2.3" fill="#a6d99d"/>
<circle cx="1061.5" cy="274.7" r="2.3" fill="#a6d99d"/>
<circle cx="1070.2" cy="275.1" r="2.3" fill="#a6d99d"/>
<circle cx="1080.0" cy="274.5" r="2.3" fill="#a6d99d"/>
<circle cx="1090.2" cy="274.7" r="2.3" fill="#a6d99d"/>
<circle cx="1100.0" cy="274.7" r="2.3" fill="#a6d99d"/>
<circle cx="1075.7" cy="282.6" r="2.3" fill="#a6d99d"/>
<circle cx="1085.0" cy="282.0" r="2.3" fill="#a6d99d"/>
<circle cx="1102.8" cy="280.5" r="2.3" fill="#a6d99d"/>
<circle cx="1093.0" cy="286.4" r="2.3" fill="#a6d99d"/>
<ellipse cx="1328" cy="262.4" rx="42.6" ry="44.2" fill="#fff" stroke="#b3b7ba" stroke-width="1.3"/>
<ellipse cx="1328" cy="262.0" rx="41.4" ry="42.8" fill="none" stroke="#d5d9db" stroke-width="0.8"/>
<ellipse cx="1328" cy="261.09999999999997" rx="40.6" ry="41.3" fill="#f6dde0" stroke="#d6757e" stroke-width="0.8"/>
<circle cx="1324.0" cy="240.5" r="4.9" fill="#cdeec6" stroke="#bfe6b8" stroke-width="0.7"/>
<circle cx="1344.0" cy="240.5" r="4.9" fill="#cdeec6" stroke="#bfe6b8" stroke-width="0.7"/>
<circle cx="1311.5" cy="245.3" r="4.9" fill="#cdeec6" stroke="#bfe6b8" stroke-width="0.7"/>
<circle cx="1319.9" cy="249.7" r="4.9" fill="#cdeec6" stroke="#bfe6b8" stroke-width="0.7"/>
<circle cx="1328.8" cy="249.1" r="4.9" fill="#cdeec6" stroke="#bfe6b8" stroke-width="0.7"/>
<circle cx="1338.4" cy="249.1" r="4.9" fill="#cdeec6" stroke="#bfe6b8" stroke-width="0.7"/>
<circle cx="1349.8" cy="248.8" r="4.9" fill="#cdeec6" stroke="#bfe6b8" stroke-width="0.7"/>
<circle cx="1311.5" cy="255.5" r="4.9" fill="#cdeec6" stroke="#bfe6b8" stroke-width="0.7"/>
<circle cx="1324.8" cy="257.4" r="4.9" fill="#cdeec6" stroke="#bfe6b8" stroke-width="0.7"/>
<circle cx="1335.2" cy="257.8" r="4.9" fill="#cdeec6" stroke="#bfe6b8" stroke-width="0.7"/>
<circle cx="1344.0" cy="257.8" r="4.9" fill="#cdeec6" stroke="#bfe6b8" stroke-width="0.7"/>
<circle cx="1353.6" cy="257.8" r="4.9" fill="#cdeec6" stroke="#bfe6b8" stroke-width="0.7"/>
<circle cx="1311.3" cy="266.1" r="4.9" fill="#cdeec6" stroke="#bfe6b8" stroke-width="0.7"/>
<circle cx="1320.4" cy="267.0" r="4.9" fill="#cdeec6" stroke="#bfe6b8" stroke-width="0.7"/>
<circle cx="1329.6" cy="265.9" r="4.9" fill="#cdeec6" stroke="#bfe6b8" stroke-width="0.7"/>
<circle cx="1340.3" cy="266.8" r="4.9" fill="#cdeec6" stroke="#bfe6b8" stroke-width="0.7"/>
<circle cx="1349.6" cy="266.8" r="4.9" fill="#cdeec6" stroke="#bfe6b8" stroke-width="0.7"/>
<circle cx="1359.1" cy="265.9" r="4.9" fill="#cdeec6" stroke="#bfe6b8" stroke-width="0.7"/>
<circle cx="1306.5" cy="274.7" r="4.9" fill="#cdeec6" stroke="#bfe6b8" stroke-width="0.7"/>
<circle cx="1315.2" cy="275.1" r="4.9" fill="#cdeec6" stroke="#bfe6b8" stroke-width="0.7"/>
<circle cx="1325.0" cy="274.5" r="4.9" fill="#cdeec6" stroke="#bfe6b8" stroke-width="0.7"/>
<circle cx="1335.2" cy="274.7" r="4.9" fill="#cdeec6" stroke="#bfe6b8" stroke-width="0.7"/>
<circle cx="1345.0" cy="274.7" r="4.9" fill="#cdeec6" stroke="#bfe6b8" stroke-width="0.7"/>
<circle cx="1320.7" cy="282.6" r="4.9" fill="#cdeec6" stroke="#bfe6b8" stroke-width="0.7"/>
<circle cx="1330.0" cy="282.0" r="4.9" fill="#cdeec6" stroke="#bfe6b8" stroke-width="0.7"/>
<circle cx="1347.8" cy="280.5" r="4.9" fill="#cdeec6" stroke="#bfe6b8" stroke-width="0.7"/>
<circle cx="1338.0" cy="286.4" r="4.9" fill="#cdeec6" stroke="#bfe6b8" stroke-width="0.7"/>
<circle cx="1324.0" cy="240.5" r="2.3" fill="#a6d99d"/>
<circle cx="1344.0" cy="240.5" r="2.3" fill="#a6d99d"/>
<circle cx="1311.5" cy="245.3" r="2.3" fill="#a6d99d"/>
<circle cx="1319.9" cy="249.7" r="2.3" fill="#a6d99d"/>
<circle cx="1328.8" cy="249.1" r="2.3" fill="#a6d99d"/>
<circle cx="1338.4" cy="249.1" r="2.3" fill="#a6d99d"/>
<circle cx="1349.8" cy="248.8" r="2.3" fill="#a6d99d"/>
<circle cx="1311.5" cy="255.5" r="2.3" fill="#a6d99d"/>
<circle cx="1324.8" cy="257.4" r="2.3" fill="#a6d99d"/>
<circle cx="1335.2" cy="257.8" r="2.3" fill="#a6d99d"/>
<circle cx="1344.0" cy="257.8" r="2.3" fill="#a6d99d"/>
<circle cx="1353.6" cy="257.8" r="2.3" fill="#a6d99d"/>
<circle cx="1311.3" cy="266.1" r="2.3" fill="#a6d99d"/>
<circle cx="1320.4" cy="267.0" r="2.3" fill="#a6d99d"/>
<circle cx="1329.6" cy="265.9" r="2.3" fill="#a6d99d"/>
<circle cx="1340.3" cy="266.8" r="2.3" fill="#a6d99d"/>
<circle cx="1349.6" cy="266.8" r="2.3" fill="#a6d99d"/>
<circle cx="1359.1" cy="265.9" r="2.3" fill="#a6d99d"/>
<circle cx="1306.5" cy="274.7" r="2.3" fill="#a6d99d"/>
<circle cx="1315.2" cy="275.1" r="2.3" fill="#a6d99d"/>
<circle cx="1325.0" cy="274.5" r="2.3" fill="#a6d99d"/>
<circle cx="1335.2" cy="274.7" r="2.3" fill="#a6d99d"/>
<circle cx="1345.0" cy="274.7" r="2.3" fill="#a6d99d"/>
<circle cx="1320.7" cy="282.6" r="2.3" fill="#a6d99d"/>
<circle cx="1330.0" cy="282.0" r="2.3" fill="#a6d99d"/>
<circle cx="1347.8" cy="280.5" r="2.3" fill="#a6d99d"/>
<circle cx="1338.0" cy="286.4" r="2.3" fill="#a6d99d"/>
<text x="1038.4" y="21" font-size="18.5" textLength="92" lengthAdjust="spacingAndGlyphs">4°C - 2% O<tspan font-size="11" dy="2.5">2</tspan></text>
<text x="1051.66" y="40.0" font-size="19" textLength="62.00" lengthAdjust="spacingAndGlyphs">5 hours</text>
<text x="1074.52" y="59.4" font-size="18.3" font-weight="700" textLength="15.63" lengthAdjust="spacingAndGlyphs">PI</text>
<text x="1279.4" y="41.6" font-size="18.5" textLength="111.6" lengthAdjust="spacingAndGlyphs">37°C - 20% O<tspan font-size="11" dy="2.5">2</tspan></text>
<text x="1227.93" y="60.6" font-size="18.3" font-weight="700" textLength="213.22" lengthAdjust="spacingAndGlyphs">1 hour / 4hours/ 24 hours</text>
<text x="1349.30" y="204.0" font-size="18.3" font-weight="700" textLength="157.13" lengthAdjust="spacingAndGlyphs">Conditioned media</text>
<text x="1385.90" y="223.0" font-size="18.3" font-weight="700" textLength="81.18" lengthAdjust="spacingAndGlyphs">collection</text>
<text x="1628.29" y="113.4" font-size="19" font-weight="700" textLength="222.83" lengthAdjust="spacingAndGlyphs">Mass Spectometry analysis</text>
<defs><linearGradient id="glow" x1="0" x2="1" y1="0" y2="0"><stop offset="0" stop-color="#3fd44a"/><stop offset="0.18" stop-color="#3fb86a"/><stop offset="0.3" stop-color="#6a6fd0"/><stop offset="0.5" stop-color="#35c6c4"/><stop offset="0.7" stop-color="#6fc8d8"/><stop offset="0.9" stop-color="#8b7fe0"/><stop offset="1" stop-color="#b49cf0"/></linearGradient><pattern id="ribs" width="4" height="2" patternUnits="userSpaceOnUse"><rect width="4" height="2" fill="#2a2e31"/><rect y="1.2" width="4" height="0.8" fill="#5b6064"/></pattern></defs>
<polygon points="1604.4,270 1671,272.3 1671,285.6 1604.4,282.4" fill="#6b7073" stroke="#54595c" stroke-width="0.6"/>
<polygon points="1671,272.3 1854.4,280 1854.4,296 1671,285.6" fill="#6f7477" stroke="#54595c" stroke-width="0.6"/>
<polygon points="1854.4,280 1875.4,266 1875.4,277 1854.4,296" fill="#383c3f"/>
<polygon points="1599,143 1666,139 1666,272.6 1599,270.4" fill="#43484b"/>
<polygon points="1666,139 1848,130.6 1857,130 1857,279.6 1830,278.8 1666,272.6" fill="#313538"/>
<path d="M1848,130.6 L1857,130 L1857,279.6 L1830,278.8 Q1847,205 1848,130.6Z" fill="url(#ribs)"/>
<path d="M1848,130.6 Q1847,205 1830,278.8" fill="none" stroke="#3f9fd0" stroke-width="1"/>
<polygon points="1857,130 1878.6,146 1878.6,265 1857,279.6" fill="#d3d5d7" stroke="#8f9396" stroke-width="0.6"/>
<line x1="1857.5" y1="150" x2="1878.2" y2="153" stroke="#b2b5b8" stroke-width="0.6"/>
<line x1="1857.5" y1="172" x2="1878.2" y2="175" stroke="#b2b5b8" stroke-width="0.6"/>
<line x1="1857.5" y1="194" x2="1878.2" y2="197" stroke="#b2b5b8" stroke-width="0.6"/>
<line x1="1857.5" y1="216" x2="1878.2" y2="219" stroke="#b2b5b8" stroke-width="0.6"/>
<line x1="1857.5" y1="238" x2="1878.2" y2="241" stroke="#b2b5b8" stroke-width="0.6"/>
<line x1="1857.5" y1="258" x2="1878.2" y2="261" stroke="#b2b5b8" stroke-width="0.6"/>
<polygon points="1869.6,181 1873.6,183 1873.6,264 1869.6,265" fill="#c3c6c8" stroke="#8f9396" stroke-width="0.6"/>
<polygon points="1861,208 1865.4,209 1865.4,242 1861,241" fill="#ecedee" stroke="#8f9396" stroke-width="0.6"/>
<polygon points="1666.4,171.6 1846,167.3 1846,168.7 1666.4,173.2" fill="url(#glow)"/>
<rect x="1616.6" y="167.4" width="33" height="55.6" rx="1.6" fill="#34383b" stroke="#2c3033" stroke-width="0.6"/>
<polygon points="1618.4,178 1618.4,171 1620.4,167 1628.4,165.4 1633,170 1634,178" fill="#3c4043"/>
<path d="M1619.2,167.2 Q1618.6,160.4 1623.4,160.2 Q1628.2,160.6 1628.8,165.6 Q1624.4,170.6 1619.2,167.2Z" fill="#1d2022"/>
<path d="M1619.4,167.4 Q1624.2,171.2 1628.8,166" fill="none" stroke="#c9cbcc" stroke-width="1.1"/>
<rect x="1633" y="170.4" width="11.6" height="6" fill="#f2f2f2" stroke="#9a9c9e" stroke-width="0.5"/>
<rect x="1634" y="176.4" width="12.6" height="29" fill="#c4c6c8" stroke="#8f9193" stroke-width="0.5"/>
<rect x="1638" y="178" width="3" height="17" fill="#e6e7e8" stroke="#8f9193" stroke-width="0.4"/>
<rect x="1641" y="187" width="4" height="5.2" fill="#1f2224"/>
<polygon points="1627,204 1640,204 1640,220 1633.4,220" fill="#8b8f92"/>
<rect x="1610" y="176.6" width="26" height="28.6" rx="3" fill="#dcddde" stroke="#a3a5a7" stroke-width="0.7"/>
<rect x="1613.4" y="182.6" width="14.6" height="15.6" rx="1.6" fill="#f1f1f1" stroke="#8f9193" stroke-width="0.8"/>
<polygon points="1615,196.6 1626.6,184.4 1626.6,196.6" fill="#c9cbcc"/>
</g>
<g id="panelB">
<text x="-0.24" y="389.6" font-size="38.7" font-weight="700" textLength="24.86" lengthAdjust="spacingAndGlyphs">B</text>
<text x="113.12" y="426.0" font-size="30.5" font-weight="700" textLength="443.74" lengthAdjust="spacingAndGlyphs">Secretome reperfusion analysis</text>
<text x="179.13" y="464.4" font-size="30.5" font-weight="700" textLength="311.15" lengthAdjust="spacingAndGlyphs">NTC KD vs iRhom2 KD</text>
<g fill="#d8d8d8"><circle cx="356.6" cy="759.3" r="3.3"/><circle cx="325.6" cy="754.9" r="3.3"/><circle cx="340.8" cy="775.9" r="3.3"/><circle cx="338.8" cy="780.3" r="3.3"/><circle cx="335.2" cy="780.5" r="3.3"/><circle cx="314.6" cy="657.7" r="3.3"/><circle cx="325.5" cy="740.8" r="3.3"/><circle cx="354.9" cy="753.2" r="3.3"/><circle cx="350.2" cy="775.6" r="3.3"/><circle cx="329.9" cy="760.2" r="3.3"/><circle cx="321.3" cy="754.0" r="3.3"/><circle cx="352.2" cy="758.9" r="3.3"/><circle cx="319.4" cy="644.3" r="3.3"/><circle cx="343.1" cy="768.5" r="3.3"/><circle cx="348.5" cy="770.1" r="3.3"/><circle cx="356.8" cy="710.3" r="3.3"/><circle cx="319.5" cy="672.8" r="3.3"/><circle cx="365.8" cy="692.8" r="3.3"/><circle cx="377.3" cy="659.0" r="3.3"/><circle cx="365.2" cy="723.6" r="3.3"/><circle cx="350.0" cy="780.6" r="3.3"/><circle cx="342.8" cy="779.2" r="3.3"/><circle cx="344.6" cy="780.0" r="3.3"/><circle cx="352.2" cy="750.4" r="3.3"/><circle cx="337.5" cy="775.6" r="3.3"/><circle cx="348.3" cy="779.3" r="3.3"/><circle cx="353.5" cy="774.4" r="3.3"/><circle cx="330.2" cy="769.2" r="3.3"/><circle cx="349.8" cy="774.5" r="3.3"/><circle cx="331.1" cy="780.0" r="3.3"/><circle cx="346.8" cy="774.4" r="3.3"/><circle cx="344.5" cy="769.7" r="3.3"/><circle cx="335.8" cy="780.5" r="3.3"/><circle cx="356.0" cy="765.0" r="3.3"/><circle cx="355.5" cy="672.2" r="3.3"/><circle cx="342.0" cy="776.0" r="3.3"/><circle cx="315.4" cy="693.4" r="3.3"/><circle cx="326.7" cy="729.7" r="3.3"/><circle cx="337.5" cy="775.2" r="3.3"/><circle cx="347.1" cy="761.6" r="3.3"/><circle cx="336.8" cy="782.8" r="3.3"/><circle cx="338.6" cy="772.0" r="3.3"/><circle cx="359.9" cy="746.9" r="3.3"/><circle cx="348.7" cy="781.5" r="3.3"/><circle cx="324.0" cy="750.4" r="3.3"/><circle cx="362.0" cy="690.4" r="3.3"/><circle cx="341.1" cy="783.8" r="3.3"/><circle cx="345.9" cy="776.3" r="3.3"/><circle cx="348.9" cy="749.2" r="3.3"/><circle cx="379.4" cy="658.9" r="3.3"/><circle cx="359.6" cy="736.3" r="3.3"/><circle cx="337.5" cy="783.7" r="3.3"/><circle cx="330.9" cy="735.0" r="3.3"/><circle cx="329.0" cy="757.0" r="3.3"/><circle cx="335.6" cy="768.3" r="3.3"/><circle cx="326.3" cy="730.1" r="3.3"/><circle cx="326.5" cy="730.1" r="3.3"/><circle cx="322.0" cy="766.3" r="3.3"/><circle cx="305.3" cy="695.9" r="3.3"/><circle cx="370.7" cy="706.3" r="3.3"/><circle cx="350.8" cy="744.0" r="3.3"/><circle cx="333.1" cy="781.0" r="3.3"/><circle cx="315.4" cy="648.4" r="3.3"/><circle cx="354.4" cy="730.4" r="3.3"/><circle cx="335.0" cy="760.2" r="3.3"/><circle cx="339.7" cy="783.2" r="3.3"/><circle cx="351.1" cy="757.1" r="3.3"/><circle cx="320.7" cy="745.0" r="3.3"/><circle cx="345.3" cy="772.0" r="3.3"/><circle cx="351.8" cy="774.9" r="3.3"/><circle cx="350.9" cy="694.3" r="3.3"/><circle cx="334.0" cy="767.8" r="3.3"/><circle cx="349.0" cy="775.1" r="3.3"/><circle cx="349.8" cy="701.9" r="3.3"/><circle cx="359.7" cy="748.2" r="3.3"/><circle cx="325.1" cy="712.4" r="3.3"/><circle cx="323.6" cy="733.7" r="3.3"/><circle cx="354.7" cy="759.4" r="3.3"/><circle cx="343.0" cy="774.3" r="3.3"/><circle cx="327.9" cy="768.5" r="3.3"/><circle cx="371.0" cy="657.8" r="3.3"/><circle cx="365.5" cy="703.9" r="3.3"/><circle cx="355.6" cy="734.0" r="3.3"/><circle cx="341.4" cy="783.7" r="3.3"/><circle cx="336.8" cy="783.4" r="3.3"/><circle cx="338.3" cy="782.5" r="3.3"/><circle cx="324.7" cy="759.7" r="3.3"/><circle cx="357.5" cy="672.6" r="3.3"/><circle cx="346.2" cy="775.1" r="3.3"/><circle cx="329.0" cy="757.8" r="3.3"/><circle cx="342.0" cy="776.2" r="3.3"/><circle cx="332.9" cy="753.9" r="3.3"/><circle cx="364.0" cy="727.2" r="3.3"/><circle cx="327.6" cy="780.6" r="3.3"/><circle cx="352.0" cy="732.2" r="3.3"/><circle cx="368.9" cy="692.9" r="3.3"/><circle cx="329.4" cy="749.5" r="3.3"/><circle cx="319.0" cy="758.4" r="3.3"/><circle cx="335.8" cy="774.8" r="3.3"/><circle cx="352.1" cy="732.8" r="3.3"/><circle cx="324.6" cy="696.2" r="3.3"/><circle cx="360.7" cy="721.5" r="3.3"/><circle cx="313.5" cy="692.9" r="3.3"/><circle cx="353.3" cy="760.1" r="3.3"/><circle cx="371.7" cy="725.3" r="3.3"/><circle cx="337.2" cy="781.7" r="3.3"/><circle cx="345.9" cy="776.5" r="3.3"/><circle cx="342.8" cy="777.7" r="3.3"/><circle cx="319.5" cy="732.0" r="3.3"/><circle cx="318.6" cy="756.2" r="3.3"/><circle cx="340.5" cy="780.7" r="3.3"/><circle cx="323.1" cy="731.3" r="3.3"/><circle cx="324.0" cy="753.7" r="3.3"/><circle cx="328.8" cy="764.3" r="3.3"/><circle cx="377.1" cy="696.0" r="3.3"/><circle cx="343.9" cy="753.5" r="3.3"/><circle cx="328.3" cy="775.0" r="3.3"/><circle cx="336.5" cy="783.3" r="3.3"/><circle cx="355.7" cy="754.2" r="3.3"/><circle cx="323.0" cy="756.3" r="3.3"/><circle cx="330.6" cy="781.6" r="3.3"/><circle cx="353.0" cy="771.3" r="3.3"/><circle cx="347.8" cy="778.7" r="3.3"/><circle cx="343.6" cy="757.4" r="3.3"/><circle cx="335.6" cy="775.5" r="3.3"/><circle cx="360.0" cy="723.5" r="3.3"/><circle cx="344.5" cy="775.4" r="3.3"/><circle cx="327.2" cy="766.0" r="3.3"/><circle cx="338.6" cy="779.8" r="3.3"/><circle cx="350.6" cy="772.3" r="3.3"/><circle cx="350.7" cy="753.0" r="3.3"/><circle cx="357.7" cy="753.1" r="3.3"/><circle cx="330.4" cy="774.8" r="3.3"/><circle cx="357.4" cy="709.3" r="3.3"/><circle cx="363.4" cy="708.0" r="3.3"/><circle cx="352.0" cy="695.3" r="3.3"/><circle cx="334.1" cy="768.6" r="3.3"/><circle cx="390.8" cy="699.9" r="3.3"/><circle cx="332.7" cy="772.9" r="3.3"/><circle cx="366.2" cy="713.5" r="3.3"/><circle cx="354.1" cy="721.6" r="3.3"/><circle cx="342.4" cy="783.7" r="3.3"/><circle cx="321.5" cy="692.5" r="3.3"/><circle cx="365.4" cy="726.9" r="3.3"/><circle cx="360.8" cy="737.0" r="3.3"/><circle cx="337.2" cy="782.9" r="3.3"/><circle cx="355.6" cy="754.3" r="3.3"/><circle cx="335.5" cy="774.9" r="3.3"/><circle cx="317.3" cy="651.1" r="3.3"/><circle cx="369.2" cy="676.1" r="3.3"/><circle cx="354.1" cy="725.9" r="3.3"/><circle cx="330.3" cy="760.9" r="3.3"/><circle cx="338.1" cy="783.9" r="3.3"/><circle cx="326.6" cy="759.2" r="3.3"/><circle cx="353.6" cy="762.7" r="3.3"/><circle cx="340.6" cy="783.8" r="3.3"/><circle cx="326.4" cy="719.5" r="3.3"/><circle cx="325.3" cy="762.7" r="3.3"/><circle cx="328.9" cy="755.2" r="3.3"/><circle cx="309.8" cy="692.5" r="3.3"/><circle cx="313.5" cy="723.7" r="3.3"/><circle cx="373.5" cy="702.1" r="3.3"/><circle cx="316.3" cy="725.5" r="3.3"/><circle cx="346.7" cy="781.4" r="3.3"/><circle cx="348.4" cy="758.0" r="3.3"/><circle cx="362.7" cy="744.1" r="3.3"/><circle cx="361.6" cy="679.4" r="3.3"/><circle cx="361.6" cy="749.5" r="3.3"/><circle cx="326.0" cy="763.8" r="3.3"/><circle cx="317.1" cy="726.3" r="3.3"/><circle cx="336.4" cy="783.5" r="3.3"/><circle cx="347.3" cy="763.0" r="3.3"/><circle cx="348.4" cy="775.3" r="3.3"/><circle cx="369.0" cy="694.4" r="3.3"/><circle cx="315.2" cy="754.9" r="3.3"/><circle cx="319.2" cy="742.5" r="3.3"/><circle cx="335.9" cy="781.1" r="3.3"/><circle cx="364.2" cy="685.6" r="3.3"/><circle cx="346.2" cy="757.8" r="3.3"/><circle cx="336.2" cy="781.9" r="3.3"/><circle cx="347.7" cy="761.6" r="3.3"/><circle cx="329.7" cy="770.3" r="3.3"/><circle cx="354.3" cy="750.3" r="3.3"/><circle cx="339.2" cy="783.9" r="3.3"/><circle cx="342.9" cy="782.6" r="3.3"/><circle cx="309.4" cy="696.9" r="3.3"/><circle cx="337.6" cy="782.3" r="3.3"/><circle cx="364.7" cy="694.4" r="3.3"/><circle cx="328.5" cy="757.4" r="3.3"/><circle cx="376.2" cy="682.6" r="3.3"/><circle cx="330.8" cy="758.1" r="3.3"/><circle cx="330.4" cy="779.3" r="3.3"/><circle cx="357.4" cy="759.0" r="3.3"/><circle cx="345.9" cy="778.9" r="3.3"/><circle cx="357.5" cy="739.1" r="3.3"/><circle cx="334.8" cy="761.7" r="3.3"/><circle cx="333.9" cy="753.0" r="3.3"/><circle cx="344.9" cy="773.0" r="3.3"/><circle cx="312.1" cy="698.4" r="3.3"/><circle cx="329.5" cy="771.1" r="3.3"/><circle cx="321.6" cy="749.9" r="3.3"/><circle cx="340.8" cy="775.6" r="3.3"/><circle cx="317.0" cy="659.5" r="3.3"/><circle cx="342.4" cy="781.8" r="3.3"/><circle cx="333.4" cy="761.3" r="3.3"/><circle cx="346.2" cy="781.3" r="3.3"/><circle cx="354.7" cy="738.1" r="3.3"/><circle cx="349.4" cy="757.3" r="3.3"/><circle cx="331.6" cy="766.8" r="3.3"/><circle cx="333.8" cy="779.1" r="3.3"/><circle cx="326.5" cy="744.1" r="3.3"/><circle cx="336.5" cy="771.9" r="3.3"/><circle cx="333.9" cy="765.1" r="3.3"/><circle cx="326.6" cy="751.4" r="3.3"/><circle cx="363.8" cy="689.1" r="3.3"/><circle cx="367.2" cy="703.3" r="3.3"/><circle cx="329.9" cy="780.8" r="3.3"/><circle cx="332.2" cy="769.5" r="3.3"/><circle cx="342.6" cy="781.1" r="3.3"/><circle cx="330.1" cy="769.2" r="3.3"/><circle cx="361.9" cy="735.9" r="3.3"/><circle cx="363.9" cy="731.7" r="3.3"/><circle cx="327.3" cy="779.2" r="3.3"/><circle cx="307.2" cy="681.5" r="3.3"/><circle cx="327.9" cy="760.4" r="3.3"/><circle cx="333.1" cy="763.1" r="3.3"/><circle cx="360.8" cy="697.8" r="3.3"/><circle cx="353.0" cy="765.5" r="3.3"/><circle cx="343.1" cy="763.9" r="3.3"/><circle cx="324.1" cy="752.1" r="3.3"/><circle cx="355.8" cy="750.1" r="3.3"/><circle cx="339.2" cy="770.6" r="3.3"/><circle cx="342.5" cy="754.3" r="3.3"/><circle cx="320.2" cy="741.1" r="3.3"/><circle cx="336.4" cy="781.7" r="3.3"/><circle cx="334.2" cy="780.9" r="3.3"/><circle cx="362.7" cy="696.5" r="3.3"/><circle cx="321.4" cy="728.8" r="3.3"/><circle cx="347.5" cy="772.6" r="3.3"/><circle cx="353.9" cy="725.9" r="3.3"/><circle cx="328.6" cy="767.2" r="3.3"/><circle cx="322.7" cy="752.4" r="3.3"/><circle cx="316.6" cy="734.1" r="3.3"/><circle cx="329.4" cy="739.3" r="3.3"/><circle cx="331.8" cy="718.7" r="3.3"/><circle cx="348.9" cy="742.3" r="3.3"/><circle cx="319.7" cy="733.8" r="3.3"/><circle cx="336.5" cy="777.8" r="3.3"/><circle cx="372.0" cy="650.5" r="3.3"/><circle cx="354.0" cy="761.3" r="3.3"/><circle cx="367.8" cy="666.1" r="3.3"/><circle cx="327.2" cy="741.4" r="3.3"/><circle cx="340.4" cy="776.1" r="3.3"/><circle cx="368.3" cy="693.2" r="3.3"/><circle cx="344.6" cy="779.6" r="3.3"/><circle cx="363.4" cy="732.9" r="3.3"/><circle cx="346.0" cy="773.8" r="3.3"/><circle cx="364.3" cy="727.0" r="3.3"/><circle cx="323.6" cy="751.4" r="3.3"/><circle cx="317.6" cy="699.9" r="3.3"/><circle cx="335.2" cy="766.9" r="3.3"/><circle cx="345.2" cy="773.9" r="3.3"/><circle cx="308.2" cy="678.0" r="3.3"/><circle cx="357.6" cy="754.2" r="3.3"/><circle cx="370.2" cy="651.2" r="3.3"/><circle cx="353.3" cy="757.7" r="3.3"/><circle cx="319.3" cy="720.4" r="3.3"/><circle cx="343.6" cy="777.3" r="3.3"/><circle cx="326.8" cy="771.8" r="3.3"/><circle cx="369.6" cy="648.6" r="3.3"/><circle cx="354.4" cy="752.6" r="3.3"/><circle cx="320.4" cy="715.7" r="3.3"/><circle cx="361.5" cy="715.6" r="3.3"/><circle cx="349.9" cy="780.2" r="3.3"/><circle cx="321.5" cy="758.0" r="3.3"/><circle cx="327.4" cy="769.3" r="3.3"/><circle cx="335.9" cy="761.9" r="3.3"/><circle cx="337.4" cy="774.6" r="3.3"/><circle cx="356.1" cy="753.4" r="3.3"/><circle cx="345.4" cy="768.8" r="3.3"/><circle cx="347.6" cy="769.1" r="3.3"/><circle cx="353.5" cy="736.8" r="3.3"/><circle cx="358.7" cy="763.5" r="3.3"/><circle cx="355.6" cy="740.8" r="3.3"/><circle cx="330.6" cy="764.6" r="3.3"/><circle cx="358.1" cy="758.9" r="3.3"/><circle cx="372.2" cy="650.0" r="3.3"/><circle cx="353.7" cy="770.0" r="3.3"/><circle cx="352.0" cy="752.2" r="3.3"/><circle cx="362.5" cy="739.3" r="3.3"/><circle cx="329.1" cy="775.1" r="3.3"/><circle cx="335.6" cy="750.1" r="3.3"/><circle cx="332.8" cy="767.5" r="3.3"/><circle cx="336.6" cy="780.3" r="3.3"/><circle cx="350.5" cy="734.1" r="3.3"/><circle cx="361.6" cy="747.2" r="3.3"/><circle cx="349.6" cy="773.6" r="3.3"/><circle cx="338.6" cy="781.3" r="3.3"/><circle cx="346.7" cy="761.2" r="3.3"/><circle cx="353.9" cy="715.8" r="3.3"/><circle cx="353.5" cy="767.6" r="3.3"/><circle cx="324.7" cy="735.2" r="3.3"/><circle cx="321.3" cy="721.7" r="3.3"/><circle cx="348.6" cy="767.6" r="3.3"/><circle cx="353.1" cy="741.1" r="3.3"/><circle cx="326.4" cy="721.9" r="3.3"/><circle cx="357.7" cy="745.4" r="3.3"/><circle cx="344.4" cy="751.4" r="3.3"/><circle cx="350.2" cy="755.5" r="3.3"/><circle cx="315.4" cy="754.2" r="3.3"/><circle cx="372.2" cy="712.8" r="3.3"/><circle cx="344.0" cy="775.2" r="3.3"/><circle cx="331.6" cy="772.7" r="3.3"/><circle cx="360.0" cy="686.0" r="3.3"/><circle cx="354.8" cy="758.5" r="3.3"/><circle cx="364.9" cy="694.9" r="3.3"/><circle cx="354.2" cy="750.3" r="3.3"/><circle cx="381.7" cy="649.5" r="3.3"/><circle cx="358.2" cy="746.4" r="3.3"/><circle cx="359.9" cy="697.1" r="3.3"/><circle cx="328.4" cy="749.1" r="3.3"/><circle cx="347.9" cy="781.1" r="3.3"/><circle cx="339.2" cy="776.1" r="3.3"/><circle cx="329.2" cy="769.0" r="3.3"/><circle cx="351.4" cy="730.0" r="3.3"/><circle cx="338.6" cy="783.8" r="3.3"/><circle cx="347.9" cy="758.1" r="3.3"/><circle cx="348.8" cy="776.4" r="3.3"/><circle cx="329.5" cy="771.6" r="3.3"/><circle cx="341.1" cy="782.9" r="3.3"/><circle cx="331.1" cy="777.9" r="3.3"/><circle cx="326.9" cy="762.3" r="3.3"/><circle cx="324.5" cy="736.5" r="3.3"/><circle cx="364.7" cy="647.2" r="3.3"/><circle cx="355.8" cy="708.4" r="3.3"/><circle cx="369.6" cy="694.5" r="3.3"/><circle cx="357.5" cy="753.5" r="3.3"/><circle cx="334.3" cy="782.1" r="3.3"/><circle cx="306.5" cy="696.1" r="3.3"/><circle cx="327.6" cy="769.2" r="3.3"/><circle cx="339.0" cy="781.4" r="3.3"/><circle cx="352.3" cy="763.3" r="3.3"/><circle cx="359.1" cy="735.8" r="3.3"/><circle cx="354.4" cy="763.4" r="3.3"/><circle cx="341.4" cy="781.5" r="3.3"/><circle cx="362.3" cy="705.6" r="3.3"/><circle cx="362.1" cy="718.9" r="3.3"/><circle cx="355.9" cy="695.1" r="3.3"/><circle cx="347.1" cy="721.2" r="3.3"/><circle cx="339.9" cy="784.5" r="3.3"/><circle cx="356.6" cy="769.5" r="3.3"/><circle cx="367.8" cy="716.9" r="3.3"/><circle cx="331.5" cy="766.0" r="3.3"/><circle cx="366.0" cy="696.6" r="3.3"/><circle cx="332.6" cy="755.7" r="3.3"/><circle cx="345.5" cy="774.7" r="3.3"/><circle cx="318.9" cy="688.4" r="3.3"/><circle cx="357.4" cy="766.1" r="3.3"/><circle cx="336.7" cy="776.5" r="3.3"/><circle cx="357.0" cy="743.2" r="3.3"/><circle cx="374.1" cy="702.0" r="3.3"/><circle cx="335.2" cy="768.7" r="3.3"/><circle cx="324.6" cy="704.8" r="3.3"/><circle cx="375.7" cy="682.4" r="3.3"/><circle cx="341.3" cy="781.0" r="3.3"/><circle cx="351.8" cy="775.3" r="3.3"/><circle cx="333.8" cy="773.2" r="3.3"/><circle cx="320.6" cy="739.8" r="3.3"/><circle cx="352.5" cy="747.5" r="3.3"/><circle cx="369.5" cy="739.2" r="3.3"/><circle cx="362.9" cy="742.3" r="3.3"/><circle cx="353.6" cy="753.2" r="3.3"/><circle cx="335.7" cy="782.5" r="3.3"/><circle cx="366.8" cy="719.2" r="3.3"/><circle cx="332.0" cy="770.3" r="3.3"/><circle cx="358.7" cy="751.4" r="3.3"/><circle cx="323.8" cy="697.1" r="3.3"/><circle cx="361.9" cy="728.1" r="3.3"/><circle cx="370.7" cy="685.9" r="3.3"/><circle cx="363.4" cy="741.8" r="3.3"/><circle cx="319.6" cy="740.3" r="3.3"/><circle cx="362.8" cy="710.6" r="3.3"/><circle cx="330.9" cy="753.9" r="3.3"/><circle cx="340.2" cy="776.9" r="3.3"/><circle cx="347.8" cy="773.2" r="3.3"/><circle cx="351.1" cy="721.4" r="3.3"/><circle cx="348.2" cy="756.4" r="3.3"/><circle cx="334.3" cy="783.0" r="3.3"/><circle cx="361.8" cy="733.2" r="3.3"/><circle cx="343.2" cy="777.5" r="3.3"/><circle cx="349.8" cy="755.9" r="3.3"/><circle cx="363.8" cy="720.1" r="3.3"/><circle cx="352.9" cy="693.8" r="3.3"/><circle cx="344.9" cy="773.0" r="3.3"/><circle cx="346.3" cy="768.8" r="3.3"/><circle cx="360.2" cy="753.4" r="3.3"/><circle cx="357.4" cy="747.6" r="3.3"/><circle cx="344.9" cy="772.1" r="3.3"/><circle cx="324.8" cy="736.4" r="3.3"/><circle cx="349.4" cy="762.3" r="3.3"/><circle cx="337.6" cy="774.2" r="3.3"/><circle cx="324.6" cy="726.4" r="3.3"/><circle cx="344.8" cy="777.9" r="3.3"/><circle cx="331.7" cy="772.9" r="3.3"/><circle cx="343.5" cy="778.0" r="3.3"/><circle cx="347.3" cy="781.1" r="3.3"/><circle cx="370.3" cy="645.8" r="3.3"/><circle cx="329.7" cy="772.2" r="3.3"/><circle cx="350.5" cy="772.8" r="3.3"/><circle cx="329.2" cy="767.2" r="3.3"/><circle cx="350.6" cy="745.4" r="3.3"/><circle cx="346.2" cy="781.9" r="3.3"/><circle cx="316.1" cy="735.8" r="3.3"/><circle cx="347.1" cy="758.5" r="3.3"/><circle cx="364.5" cy="711.1" r="3.3"/><circle cx="346.5" cy="766.5" r="3.3"/><circle cx="355.8" cy="751.3" r="3.3"/><circle cx="355.5" cy="758.1" r="3.3"/><circle cx="325.4" cy="759.7" r="3.3"/><circle cx="338.8" cy="774.8" r="3.3"/><circle cx="333.9" cy="781.3" r="3.3"/><circle cx="340.6" cy="783.7" r="3.3"/><circle cx="329.2" cy="763.5" r="3.3"/><circle cx="346.4" cy="765.7" r="3.3"/><circle cx="368.1" cy="682.9" r="3.3"/><circle cx="353.7" cy="693.9" r="3.3"/><circle cx="356.6" cy="768.1" r="3.3"/><circle cx="335.1" cy="767.9" r="3.3"/><circle cx="351.1" cy="754.0" r="3.3"/><circle cx="344.5" cy="782.7" r="3.3"/><circle cx="354.2" cy="747.0" r="3.3"/><circle cx="359.4" cy="751.8" r="3.3"/><circle cx="357.8" cy="734.3" r="3.3"/><circle cx="339.1" cy="777.8" r="3.3"/><circle cx="328.7" cy="770.6" r="3.3"/><circle cx="368.5" cy="705.7" r="3.3"/><circle cx="348.4" cy="769.9" r="3.3"/><circle cx="337.7" cy="783.4" r="3.3"/><circle cx="330.0" cy="749.8" r="3.3"/><circle cx="324.2" cy="738.8" r="3.3"/><circle cx="328.4" cy="774.2" r="3.3"/><circle cx="349.1" cy="705.1" r="3.3"/><circle cx="352.5" cy="743.1" r="3.3"/><circle cx="344.8" cy="781.9" r="3.3"/><circle cx="348.6" cy="767.8" r="3.3"/><circle cx="353.3" cy="762.9" r="3.3"/><circle cx="334.3" cy="776.8" r="3.3"/><circle cx="351.3" cy="766.9" r="3.3"/><circle cx="333.0" cy="777.6" r="3.3"/><circle cx="352.2" cy="735.1" r="3.3"/><circle cx="354.7" cy="763.6" r="3.3"/><circle cx="344.5" cy="782.1" r="3.3"/><circle cx="354.3" cy="747.9" r="3.3"/><circle cx="343.8" cy="783.5" r="3.3"/><circle cx="353.8" cy="749.8" r="3.3"/><circle cx="326.2" cy="758.0" r="3.3"/><circle cx="352.7" cy="674.5" r="3.3"/><circle cx="354.6" cy="724.8" r="3.3"/><circle cx="353.3" cy="744.4" r="3.3"/><circle cx="322.6" cy="714.0" r="3.3"/><circle cx="332.2" cy="764.3" r="3.3"/><circle cx="354.2" cy="755.0" r="3.3"/><circle cx="332.0" cy="765.7" r="3.3"/><circle cx="335.1" cy="773.5" r="3.3"/><circle cx="342.8" cy="773.2" r="3.3"/><circle cx="345.8" cy="772.9" r="3.3"/><circle cx="352.8" cy="741.2" r="3.3"/><circle cx="315.1" cy="713.7" r="3.3"/><circle cx="352.0" cy="767.4" r="3.3"/><circle cx="321.3" cy="733.0" r="3.3"/><circle cx="325.7" cy="736.9" r="3.3"/><circle cx="354.1" cy="744.3" r="3.3"/><circle cx="353.5" cy="750.0" r="3.3"/><circle cx="362.1" cy="752.7" r="3.3"/><circle cx="349.3" cy="772.4" r="3.3"/><circle cx="348.6" cy="778.8" r="3.3"/><circle cx="342.7" cy="781.5" r="3.3"/><circle cx="326.9" cy="759.3" r="3.3"/><circle cx="359.1" cy="757.1" r="3.3"/><circle cx="337.3" cy="782.2" r="3.3"/><circle cx="322.5" cy="754.9" r="3.3"/><circle cx="336.5" cy="772.3" r="3.3"/><circle cx="349.5" cy="767.8" r="3.3"/><circle cx="350.3" cy="714.3" r="3.3"/><circle cx="323.9" cy="761.6" r="3.3"/><circle cx="353.8" cy="719.6" r="3.3"/><circle cx="330.5" cy="764.6" r="3.3"/><circle cx="339.2" cy="783.9" r="3.3"/><circle cx="321.5" cy="681.0" r="3.3"/><circle cx="334.1" cy="761.7" r="3.3"/><circle cx="331.1" cy="763.3" r="3.3"/><circle cx="359.2" cy="733.4" r="3.3"/><circle cx="341.4" cy="782.7" r="3.3"/><circle cx="332.0" cy="779.1" r="3.3"/><circle cx="337.8" cy="783.4" r="3.3"/><circle cx="322.2" cy="719.7" r="3.3"/><circle cx="342.7" cy="770.4" r="3.3"/><circle cx="362.6" cy="658.6" r="3.3"/><circle cx="359.7" cy="735.9" r="3.3"/><circle cx="343.3" cy="776.4" r="3.3"/><circle cx="362.9" cy="684.2" r="3.3"/><circle cx="349.1" cy="768.0" r="3.3"/><circle cx="352.6" cy="749.8" r="3.3"/><circle cx="344.3" cy="773.6" r="3.3"/><circle cx="351.4" cy="765.4" r="3.3"/><circle cx="366.1" cy="698.4" r="3.3"/><circle cx="330.4" cy="781.0" r="3.3"/><circle cx="334.9" cy="774.9" r="3.3"/><circle cx="354.5" cy="756.8" r="3.3"/><circle cx="332.6" cy="782.0" r="3.3"/><circle cx="323.1" cy="740.4" r="3.3"/><circle cx="333.0" cy="706.1" r="3.3"/><circle cx="328.6" cy="760.0" r="3.3"/><circle cx="340.2" cy="783.3" r="3.3"/><circle cx="340.1" cy="779.1" r="3.3"/><circle cx="354.1" cy="768.9" r="3.3"/><circle cx="342.7" cy="784.1" r="3.3"/><circle cx="327.2" cy="753.3" r="3.3"/><circle cx="314.3" cy="721.2" r="3.3"/><circle cx="326.5" cy="714.4" r="3.3"/><circle cx="375.4" cy="654.8" r="3.3"/><circle cx="357.3" cy="734.5" r="3.3"/><circle cx="361.0" cy="693.0" r="3.3"/><circle cx="349.0" cy="763.9" r="3.3"/><circle cx="320.7" cy="740.4" r="3.3"/><circle cx="354.3" cy="766.1" r="3.3"/><circle cx="371.3" cy="694.5" r="3.3"/><circle cx="363.1" cy="729.4" r="3.3"/><circle cx="358.7" cy="729.2" r="3.3"/><circle cx="341.8" cy="779.8" r="3.3"/><circle cx="354.7" cy="766.4" r="3.3"/><circle cx="351.1" cy="762.8" r="3.3"/><circle cx="329.6" cy="752.4" r="3.3"/><circle cx="339.0" cy="768.2" r="3.3"/><circle cx="326.4" cy="779.6" r="3.3"/><circle cx="350.9" cy="774.0" r="3.3"/><circle cx="357.9" cy="734.4" r="3.3"/><circle cx="378.5" cy="678.0" r="3.3"/><circle cx="347.9" cy="775.9" r="3.3"/><circle cx="357.0" cy="742.9" r="3.3"/><circle cx="349.3" cy="741.9" r="3.3"/><circle cx="354.4" cy="708.1" r="3.3"/><circle cx="360.3" cy="755.2" r="3.3"/><circle cx="365.4" cy="736.5" r="3.3"/><circle cx="355.1" cy="739.4" r="3.3"/><circle cx="358.8" cy="746.5" r="3.3"/><circle cx="350.2" cy="754.3" r="3.3"/><circle cx="322.5" cy="747.2" r="3.3"/><circle cx="342.9" cy="685.0" r="3.3"/><circle cx="363.6" cy="729.9" r="3.3"/><circle cx="315.6" cy="730.1" r="3.3"/><circle cx="339.4" cy="778.8" r="3.3"/><circle cx="356.7" cy="756.3" r="3.3"/><circle cx="305.0" cy="682.4" r="3.3"/><circle cx="364.3" cy="720.3" r="3.3"/><circle cx="318.1" cy="704.7" r="3.3"/><circle cx="327.9" cy="772.3" r="3.3"/><circle cx="367.0" cy="705.8" r="3.3"/><circle cx="336.5" cy="770.7" r="3.3"/><circle cx="365.1" cy="722.1" r="3.3"/><circle cx="336.9" cy="772.8" r="3.3"/><circle cx="321.0" cy="751.3" r="3.3"/><circle cx="360.1" cy="720.4" r="3.3"/><circle cx="344.0" cy="782.9" r="3.3"/><circle cx="321.4" cy="706.0" r="3.3"/><circle cx="331.7" cy="763.8" r="3.3"/><circle cx="337.4" cy="744.8" r="3.3"/><circle cx="338.5" cy="774.7" r="3.3"/><circle cx="320.9" cy="702.9" r="3.3"/><circle cx="357.8" cy="760.9" r="3.3"/><circle cx="346.9" cy="767.0" r="3.3"/><circle cx="323.2" cy="746.2" r="3.3"/><circle cx="344.0" cy="776.1" r="3.3"/><circle cx="340.3" cy="778.6" r="3.3"/><circle cx="364.0" cy="681.0" r="3.3"/><circle cx="373.1" cy="647.0" r="3.3"/><circle cx="357.9" cy="730.2" r="3.3"/><circle cx="338.2" cy="777.8" r="3.3"/><circle cx="325.5" cy="761.3" r="3.3"/><circle cx="330.3" cy="755.0" r="3.3"/><circle cx="331.2" cy="766.6" r="3.3"/><circle cx="337.1" cy="770.4" r="3.3"/><circle cx="329.9" cy="770.3" r="3.3"/><circle cx="359.2" cy="684.1" r="3.3"/><circle cx="358.3" cy="729.2" r="3.3"/><circle cx="351.7" cy="761.7" r="3.3"/><circle cx="327.4" cy="760.1" r="3.3"/><circle cx="366.1" cy="738.6" r="3.3"/><circle cx="353.7" cy="762.3" r="3.3"/><circle cx="349.1" cy="761.6" r="3.3"/><circle cx="314.8" cy="715.9" r="3.3"/><circle cx="332.8" cy="780.1" r="3.3"/><circle cx="339.3" cy="780.6" r="3.3"/><circle cx="364.1" cy="739.0" r="3.3"/><circle cx="325.9" cy="696.8" r="3.3"/><circle cx="353.4" cy="758.0" r="3.3"/><circle cx="349.4" cy="758.3" r="3.3"/><circle cx="309.4" cy="665.7" r="3.3"/><circle cx="373.9" cy="649.1" r="3.3"/><circle cx="318.2" cy="735.0" r="3.3"/><circle cx="338.7" cy="781.6" r="3.3"/><circle cx="336.5" cy="774.1" r="3.3"/><circle cx="348.7" cy="774.6" r="3.3"/><circle cx="364.7" cy="729.4" r="3.3"/><circle cx="329.7" cy="776.8" r="3.3"/><circle cx="328.0" cy="772.2" r="3.3"/><circle cx="327.6" cy="731.0" r="3.3"/><circle cx="339.6" cy="783.8" r="3.3"/><circle cx="320.8" cy="679.4" r="3.3"/><circle cx="355.1" cy="752.5" r="3.3"/><circle cx="333.8" cy="779.5" r="3.3"/><circle cx="339.3" cy="778.9" r="3.3"/><circle cx="341.2" cy="778.6" r="3.3"/><circle cx="361.0" cy="723.8" r="3.3"/><circle cx="352.0" cy="762.1" r="3.3"/><circle cx="360.3" cy="750.5" r="3.3"/><circle cx="366.3" cy="709.4" r="3.3"/><circle cx="365.9" cy="665.7" r="3.3"/><circle cx="336.6" cy="762.6" r="3.3"/><circle cx="342.3" cy="762.1" r="3.3"/><circle cx="333.9" cy="777.4" r="3.3"/><circle cx="328.4" cy="777.3" r="3.3"/><circle cx="339.4" cy="783.3" r="3.3"/><circle cx="336.3" cy="742.0" r="3.3"/><circle cx="345.4" cy="782.5" r="3.3"/><circle cx="336.6" cy="779.5" r="3.3"/><circle cx="344.0" cy="767.7" r="3.3"/><circle cx="354.7" cy="678.5" r="3.3"/><circle cx="325.1" cy="755.5" r="3.3"/><circle cx="363.1" cy="729.7" r="3.3"/><circle cx="345.9" cy="765.2" r="3.3"/><circle cx="352.1" cy="760.9" r="3.3"/><circle cx="340.5" cy="782.3" r="3.3"/><circle cx="357.0" cy="751.5" r="3.3"/><circle cx="344.0" cy="773.9" r="3.3"/><circle cx="355.8" cy="756.8" r="3.3"/><circle cx="366.4" cy="728.2" r="3.3"/><circle cx="369.1" cy="668.2" r="3.3"/><circle cx="322.0" cy="747.2" r="3.3"/><circle cx="354.4" cy="765.2" r="3.3"/><circle cx="354.2" cy="745.6" r="3.3"/><circle cx="332.1" cy="754.2" r="3.3"/><circle cx="342.9" cy="782.2" r="3.3"/><circle cx="366.9" cy="720.6" r="3.3"/><circle cx="361.9" cy="707.2" r="3.3"/><circle cx="341.2" cy="780.7" r="3.3"/><circle cx="358.1" cy="713.6" r="3.3"/><circle cx="372.0" cy="721.9" r="3.3"/><circle cx="341.1" cy="782.0" r="3.3"/><circle cx="328.6" cy="751.1" r="3.3"/><circle cx="365.2" cy="742.5" r="3.3"/><circle cx="352.5" cy="748.5" r="3.3"/><circle cx="353.0" cy="730.1" r="3.3"/><circle cx="346.3" cy="690.6" r="3.3"/><circle cx="361.5" cy="723.1" r="3.3"/><circle cx="347.5" cy="759.6" r="3.3"/><circle cx="344.1" cy="779.2" r="3.3"/><circle cx="333.7" cy="779.3" r="3.3"/><circle cx="360.0" cy="739.3" r="3.3"/><circle cx="332.7" cy="768.9" r="3.3"/><circle cx="327.7" cy="750.3" r="3.3"/><circle cx="331.4" cy="752.5" r="3.3"/><circle cx="334.0" cy="778.9" r="3.3"/><circle cx="351.7" cy="760.8" r="3.3"/><circle cx="317.6" cy="738.4" r="3.3"/><circle cx="330.2" cy="763.9" r="3.3"/><circle cx="337.8" cy="779.8" r="3.3"/><circle cx="350.7" cy="775.0" r="3.3"/><circle cx="341.2" cy="776.9" r="3.3"/><circle cx="327.3" cy="763.8" r="3.3"/><circle cx="356.8" cy="711.3" r="3.3"/><circle cx="366.1" cy="658.8" r="3.3"/><circle cx="358.2" cy="735.5" r="3.3"/><circle cx="363.6" cy="749.0" r="3.3"/><circle cx="331.7" cy="781.7" r="3.3"/><circle cx="333.8" cy="760.7" r="3.3"/><circle cx="330.6" cy="750.4" r="3.3"/><circle cx="350.2" cy="756.6" r="3.3"/><circle cx="356.7" cy="727.7" r="3.3"/><circle cx="343.3" cy="783.0" r="3.3"/><circle cx="354.0" cy="749.6" r="3.3"/><circle cx="371.3" cy="676.5" r="3.3"/><circle cx="363.2" cy="718.8" r="3.3"/><circle cx="330.9" cy="775.1" r="3.3"/><circle cx="357.2" cy="745.5" r="3.3"/><circle cx="306.9" cy="696.4" r="3.3"/><circle cx="366.9" cy="736.5" r="3.3"/><circle cx="329.8" cy="770.0" r="3.3"/><circle cx="359.7" cy="731.5" r="3.3"/><circle cx="355.4" cy="752.4" r="3.3"/><circle cx="351.5" cy="769.9" r="3.3"/><circle cx="351.2" cy="771.1" r="3.3"/><circle cx="349.5" cy="770.8" r="3.3"/><circle cx="316.2" cy="707.3" r="3.3"/><circle cx="355.9" cy="745.6" r="3.3"/><circle cx="319.3" cy="740.1" r="3.3"/><circle cx="374.6" cy="724.2" r="3.3"/><circle cx="333.6" cy="765.6" r="3.3"/><circle cx="342.2" cy="773.3" r="3.3"/><circle cx="376.0" cy="679.8" r="3.3"/><circle cx="356.7" cy="749.8" r="3.3"/><circle cx="344.5" cy="779.5" r="3.3"/><circle cx="359.7" cy="740.4" r="3.3"/><circle cx="354.0" cy="749.9" r="3.3"/><circle cx="371.4" cy="652.4" r="3.3"/><circle cx="356.6" cy="739.3" r="3.3"/><circle cx="342.2" cy="783.2" r="3.3"/><circle cx="318.0" cy="708.3" r="3.3"/><circle cx="351.0" cy="753.8" r="3.3"/><circle cx="353.6" cy="753.3" r="3.3"/><circle cx="352.0" cy="755.6" r="3.3"/><circle cx="348.3" cy="756.7" r="3.3"/><circle cx="358.9" cy="756.6" r="3.3"/><circle cx="343.7" cy="778.4" r="3.3"/><circle cx="341.0" cy="767.3" r="3.3"/><circle cx="307.7" cy="676.9" r="3.3"/><circle cx="325.9" cy="707.5" r="3.3"/><circle cx="326.6" cy="747.5" r="3.3"/><circle cx="327.3" cy="745.2" r="3.3"/><circle cx="326.8" cy="754.0" r="3.3"/><circle cx="267.6" cy="693.0" r="3.3"/><circle cx="241.8" cy="718.0" r="3.3"/><circle cx="281.4" cy="758.8" r="3.3"/><circle cx="295.5" cy="677.5" r="3.3"/><circle cx="400.4" cy="701.0" r="3.3"/><circle cx="402.4" cy="714.7" r="3.3"/><circle cx="387.3" cy="722.5" r="3.3"/><circle cx="293.5" cy="716.0" r="3.3"/><circle cx="297.5" cy="717.5" r="3.3"/><circle cx="302.0" cy="743.0" r="3.3"/><circle cx="308.0" cy="750.0" r="3.3"/><circle cx="310.0" cy="768.0" r="3.3"/><circle cx="384.0" cy="741.0" r="3.3"/><circle cx="383.0" cy="731.0" r="3.3"/><circle cx="316.0" cy="644.5" r="3.3"/><circle cx="314.0" cy="657.0" r="3.3"/><circle cx="321.0" cy="660.0" r="3.3"/><circle cx="363.0" cy="650.0" r="3.3"/><circle cx="358.0" cy="661.0" r="3.3"/><circle cx="378.0" cy="668.0" r="3.3"/><circle cx="381.0" cy="672.0" r="3.3"/></g>
<g fill="#000"><circle cx="100.6" cy="644.8" r="1.45"/><circle cx="110.6" cy="644.8" r="1.45"/><circle cx="120.6" cy="644.8" r="1.45"/><circle cx="130.6" cy="644.8" r="1.45"/><circle cx="140.6" cy="644.8" r="1.45"/><circle cx="150.6" cy="644.8" r="1.45"/><circle cx="160.6" cy="644.8" r="1.45"/><circle cx="170.6" cy="644.8" r="1.45"/><circle cx="180.6" cy="644.8" r="1.45"/><circle cx="190.6" cy="644.8" r="1.45"/><circle cx="200.6" cy="644.8" r="1.45"/><circle cx="210.6" cy="644.8" r="1.45"/><circle cx="220.6" cy="644.8" r="1.45"/><circle cx="230.6" cy="644.8" r="1.45"/><circle cx="240.6" cy="644.8" r="1.45"/><circle cx="250.6" cy="644.8" r="1.45"/><circle cx="260.6" cy="644.8" r="1.45"/><circle cx="270.6" cy="644.8" r="1.45"/><circle cx="280.6" cy="644.8" r="1.45"/><circle cx="290.6" cy="644.8" r="1.45"/><circle cx="300.6" cy="644.8" r="1.45"/><circle cx="310.6" cy="644.8" r="1.45"/><circle cx="320.6" cy="644.8" r="1.45"/><circle cx="330.6" cy="644.8" r="1.45"/><circle cx="340.6" cy="644.8" r="1.45"/><circle cx="350.6" cy="644.8" r="1.45"/><circle cx="360.6" cy="644.8" r="1.45"/><circle cx="370.6" cy="644.8" r="1.45"/><circle cx="380.6" cy="644.8" r="1.45"/><circle cx="390.6" cy="644.8" r="1.45"/><circle cx="400.6" cy="644.8" r="1.45"/><circle cx="410.6" cy="644.8" r="1.45"/><circle cx="420.6" cy="644.8" r="1.45"/><circle cx="430.6" cy="644.8" r="1.45"/><circle cx="440.6" cy="644.8" r="1.45"/><circle cx="450.6" cy="644.8" r="1.45"/><circle cx="460.6" cy="644.8" r="1.45"/><circle cx="470.6" cy="644.8" r="1.45"/><circle cx="480.6" cy="644.8" r="1.45"/><circle cx="490.6" cy="644.8" r="1.45"/><circle cx="500.6" cy="644.8" r="1.45"/><circle cx="510.6" cy="644.8" r="1.45"/><circle cx="520.6" cy="644.8" r="1.45"/><circle cx="530.6" cy="644.8" r="1.45"/><circle cx="540.6" cy="644.8" r="1.45"/><circle cx="550.6" cy="644.8" r="1.45"/><circle cx="560.6" cy="644.8" r="1.45"/><circle cx="570.6" cy="644.8" r="1.45"/><circle cx="580.6" cy="644.8" r="1.45"/></g>
<rect x="88.6" y="453.4" width="4" height="336.6" fill="#000"/>
<rect x="83" y="786" width="508" height="4" fill="#000"/>
<rect x="83" y="453.4" width="7" height="4" fill="#000"/>
<rect x="83" y="564.4" width="7" height="4" fill="#000"/>
<rect x="83" y="675.0" width="7" height="4" fill="#000"/>
<rect x="88.6" y="788" width="4" height="9" fill="#000"/>
<rect x="213.0" y="788" width="4" height="9" fill="#000"/>
<rect x="337.4" y="788" width="4" height="9" fill="#000"/>
<rect x="462.2" y="788" width="4" height="9" fill="#000"/>
<rect x="587.0" y="788" width="4" height="9" fill="#000"/>
<text x="63.93" y="461.2" font-size="25" font-weight="700" textLength="14.83" lengthAdjust="spacingAndGlyphs">3</text>
<text x="63.64" y="574.2" font-size="25" font-weight="700" textLength="15.29" lengthAdjust="spacingAndGlyphs">2</text>
<text x="62.91" y="685.2" font-size="25" font-weight="700" textLength="15.62" lengthAdjust="spacingAndGlyphs">1</text>
<text x="63.49" y="795.2" font-size="25" font-weight="700" textLength="15.46" lengthAdjust="spacingAndGlyphs">0</text>
<text x="71.60" y="821.6" font-size="25" font-weight="700" textLength="26.57" lengthAdjust="spacingAndGlyphs">-2</text>
<text x="195.43" y="821.6" font-size="25" font-weight="700" textLength="21.56" lengthAdjust="spacingAndGlyphs">-1</text>
<text x="331.51" y="821.6" font-size="25" font-weight="700" textLength="15.22" lengthAdjust="spacingAndGlyphs">0</text>
<text x="455.10" y="821.6" font-size="25" font-weight="700" textLength="12.07" lengthAdjust="spacingAndGlyphs">1</text>
<text x="580.64" y="821.6" font-size="25" font-weight="700" textLength="15.29" lengthAdjust="spacingAndGlyphs">2</text>
<text x="150.94" y="863.0" font-size="24.7" font-weight="700" textLength="377.32" lengthAdjust="spacingAndGlyphs">-Log2(NTC KD vs iRhom2 KD)</text>
<text x="50.11" y="723.6" font-size="30" font-weight="700" textLength="203.06" lengthAdjust="spacingAndGlyphs" transform="rotate(-90 51.2 723.6)">-Log10(p-value)</text>
<circle cx="100.4" cy="589.6" r="3" fill="#1414f5"/>
<circle cx="277.4" cy="577" r="3" fill="#1414f5"/>
<circle cx="313.6" cy="599.6" r="3" fill="#1414f5"/>
<circle cx="319" cy="607" r="3" fill="#1414f5"/>
<circle cx="297.6" cy="632" r="3" fill="#1414f5"/>
<circle cx="300.4" cy="643.4" r="3" fill="#1414f5"/>
<circle cx="249" cy="604.6" r="3.4" fill="#e4fbfb" stroke="#1414f5" stroke-width="2.8"/>
<circle cx="307.6" cy="593.4" r="3.4" fill="#e4fbfb" stroke="#1414f5" stroke-width="2.8"/>
<circle cx="363" cy="591.4" r="3" fill="#fb1a0e"/>
<circle cx="352.6" cy="599" r="3" fill="#fb1a0e"/>
<circle cx="398.6" cy="588" r="3" fill="#fb1a0e"/>
<circle cx="374" cy="607.6" r="3" fill="#fb1a0e"/>
<circle cx="362" cy="625" r="3" fill="#fb1a0e"/>
<circle cx="381.4" cy="619" r="3" fill="#fb1a0e"/>
<circle cx="387" cy="621.4" r="3" fill="#fb1a0e"/>
<circle cx="355.6" cy="631" r="3" fill="#fb1a0e"/>
<circle cx="358.4" cy="636" r="3" fill="#fb1a0e"/>
<circle cx="376.4" cy="635.6" r="3" fill="#fb1a0e"/>
<circle cx="384.4" cy="638.6" r="3" fill="#fb1a0e"/>
<circle cx="374.6" cy="644.2" r="3" fill="#fb1a0e"/>
<circle cx="390.6" cy="513.6" r="3.4" fill="#e4fbfb" stroke="#fb1a0e" stroke-width="2.8"/>
<circle cx="389.6" cy="549" r="3.4" fill="#e4fbfb" stroke="#fb1a0e" stroke-width="2.8"/>
<circle cx="391" cy="592.6" r="3.4" fill="#e4fbfb" stroke="#fb1a0e" stroke-width="2.8"/>
<circle cx="391" cy="607" r="3.4" fill="#e4fbfb" stroke="#fb1a0e" stroke-width="2.8"/>
<circle cx="353.2" cy="622.4" r="3.4" fill="#e4fbfb" stroke="#fb1a0e" stroke-width="2.8"/>
<circle cx="374" cy="622" r="3.4" fill="#e4fbfb" stroke="#fb1a0e" stroke-width="2.8"/>
<circle cx="363.6" cy="635" r="3.4" fill="#e4fbfb" stroke="#fb1a0e" stroke-width="2.8"/>
<line x1="387.4" y1="574.6" x2="356.6" y2="616.0" stroke="#000" stroke-width="2.6" stroke-linecap="butt"/>
<line x1="397.6" y1="593.6" x2="432.4" y2="587.6" stroke="#000" stroke-width="2.6" stroke-linecap="butt"/>
<line x1="398.0" y1="607.6" x2="434.0" y2="610.6" stroke="#000" stroke-width="2.6" stroke-linecap="butt"/>
<line x1="378.6" y1="627.0" x2="414.0" y2="631.6" stroke="#000" stroke-width="2.6" stroke-linecap="butt"/>
<line x1="365.4" y1="641.0" x2="372.0" y2="659.0" stroke="#000" stroke-width="2.6" stroke-linecap="butt"/>
<text x="397.20" y="506.4" font-size="18.4" textLength="58.79" lengthAdjust="spacingAndGlyphs">AZGP1</text>
<text x="395.16" y="545.6" font-size="18.4" textLength="53.75" lengthAdjust="spacingAndGlyphs">ORM2</text>
<text x="376.91" y="573.0" font-size="18.4" textLength="63.05" lengthAdjust="spacingAndGlyphs">PSMA4</text>
<text x="434.19" y="591.0" font-size="18.4" textLength="52.21" lengthAdjust="spacingAndGlyphs">ORM1</text>
<text x="436.37" y="615.0" font-size="18.4" textLength="56.48" lengthAdjust="spacingAndGlyphs">IGHG1</text>
<text x="416.54" y="637.4" font-size="18.4" textLength="64.90" lengthAdjust="spacingAndGlyphs">HMGB1</text>
<text x="370.40" y="669.4" font-size="18.4" textLength="61.52" lengthAdjust="spacingAndGlyphs">ARPC2</text>
<text x="196.52" y="596.0" font-size="18.4" textLength="46.32" lengthAdjust="spacingAndGlyphs">FTH1</text>
<text x="282.91" y="578.4" font-size="18.4" textLength="64.25" lengthAdjust="spacingAndGlyphs">PSMC5</text>
</g>
<g id="panelC">
<text x="608.17" y="389.6" font-size="38.7" font-weight="700" textLength="25.80" lengthAdjust="spacingAndGlyphs">C</text>
<text x="875.39" y="473.6" font-size="21" font-weight="700" textLength="286.04" lengthAdjust="spacingAndGlyphs">Top5 GO Biological Process</text>
<line x1="852.6" y1="501.0" x2="852.6" y2="733.0" stroke="#000" stroke-width="2.6" stroke-linecap="round"/>
<line x1="850.0" y1="731.6" x2="1185.4" y2="731.6" stroke="#000" stroke-width="2.6" stroke-linecap="round"/>
<line x1="842.4" y1="531.7" x2="1147.0" y2="531.7" stroke="#000" stroke-width="2.5" stroke-linecap="round"/>
<circle cx="1147" cy="531.7" r="4.4" fill="#000"/>
<text x="726.73" y="537.6" font-size="16.8" font-weight="700" textLength="113.68" lengthAdjust="spacingAndGlyphs">Cell activation</text>
<line x1="842.4" y1="574.4" x2="1165.6" y2="574.4" stroke="#000" stroke-width="2.5" stroke-linecap="round"/>
<circle cx="1165.6" cy="574.4" r="4.4" fill="#000"/>
<text x="624.92" y="580.4" font-size="16.8" font-weight="700" textLength="214.70" lengthAdjust="spacingAndGlyphs">Vesicle-mediated transport</text>
<line x1="842.4" y1="617.4" x2="1167.4" y2="617.4" stroke="#000" stroke-width="2.5" stroke-linecap="round"/>
<circle cx="1167.4" cy="617.4" r="4.4" fill="#000"/>
<text x="639.91" y="623.6" font-size="16.8" font-weight="700" textLength="200.22" lengthAdjust="spacingAndGlyphs">Immune effector process</text>
<line x1="842.4" y1="660.4" x2="1171.4" y2="660.4" stroke="#000" stroke-width="2.5" stroke-linecap="round"/>
<circle cx="1171.4" cy="660.4" r="4.4" fill="#000"/>
<text x="667.31" y="666.4" font-size="16.8" font-weight="700" textLength="172.79" lengthAdjust="spacingAndGlyphs">Regulated exocytosis</text>
<line x1="842.4" y1="703.2" x2="1171.4" y2="703.2" stroke="#000" stroke-width="2.5" stroke-linecap="round"/>
<circle cx="1171.4" cy="703.2" r="4.4" fill="#000"/>
<text x="640.31" y="709.4" font-size="16.8" font-weight="700" textLength="200.09" lengthAdjust="spacingAndGlyphs">Neutrophil degranulation</text>
<line x1="852.6" y1="731.6" x2="852.6" y2="742.0" stroke="#000" stroke-width="2.5" stroke-linecap="round"/>
<text x="852.6" y="760.4" font-size="15.8" font-weight="700" text-anchor="middle">0</text>
<line x1="926.0" y1="731.6" x2="926.0" y2="742.0" stroke="#000" stroke-width="2.5" stroke-linecap="round"/>
<text x="926.0" y="760.4" font-size="15.8" font-weight="700" text-anchor="middle">1</text>
<line x1="999.4" y1="731.6" x2="999.4" y2="742.0" stroke="#000" stroke-width="2.5" stroke-linecap="round"/>
<text x="999.4" y="760.4" font-size="15.8" font-weight="700" text-anchor="middle">2</text>
<line x1="1072.6" y1="731.6" x2="1072.6" y2="742.0" stroke="#000" stroke-width="2.5" stroke-linecap="round"/>
<text x="1072.6" y="760.4" font-size="15.8" font-weight="700" text-anchor="middle">3</text>
<line x1="1146.4" y1="731.6" x2="1146.4" y2="742.0" stroke="#000" stroke-width="2.5" stroke-linecap="round"/>
<text x="1146.4" y="760.4" font-size="15.8" font-weight="700" text-anchor="middle">4</text>
<text x="950.27" y="795.6" font-size="17.2" font-weight="700" textLength="136.65" lengthAdjust="spacingAndGlyphs">-Log10(p-value)</text>
</g>
<g id="panelD">
<text x="1219.34" y="389.6" font-size="38.7" font-weight="700" textLength="25.13" lengthAdjust="spacingAndGlyphs">D</text>
<text x="1418.69" y="420.4" font-size="31" font-weight="700" textLength="390.96" lengthAdjust="spacingAndGlyphs">HMGB1 secretion during IRI</text>
<text x="1265.87" y="729.4" font-size="24.7" font-weight="700" textLength="262.44" lengthAdjust="spacingAndGlyphs" transform="rotate(-90 1267.3 729.4)">HMGB1 secretion (pg/ml)</text>
<line x1="1362.0" y1="736.6" x2="1362.0" y2="732.0" stroke="#000" stroke-width="1.8" stroke-linecap="butt"/>
<line x1="1356.4" y1="732.4" x2="1367.6" y2="732.4" stroke="#000" stroke-width="1.9" stroke-linecap="butt"/>
<rect x="1352.7" y="735.3" width="18.6" height="24.7" fill="#000"/>
<line x1="1389.6" y1="739.0" x2="1389.6" y2="730.4" stroke="#000" stroke-width="1.8" stroke-linecap="butt"/>
<line x1="1384.0" y1="730.8" x2="1395.2" y2="730.8" stroke="#000" stroke-width="1.9" stroke-linecap="butt"/>
<rect x="1381.05" y="738.75" width="17.00" height="21.25" fill="#9b9b9b" stroke="#000" stroke-width="2.0"/>
<line x1="1416.8" y1="730.4" x2="1416.8" y2="725.6" stroke="#000" stroke-width="1.8" stroke-linecap="butt"/>
<line x1="1411.2" y1="726.0" x2="1422.4" y2="726.0" stroke="#000" stroke-width="1.9" stroke-linecap="butt"/>
<rect x="1408.45" y="730.15" width="16.60" height="29.85" fill="#4a8ff7" stroke="#000" stroke-width="2.0"/>
<line x1="1444.2" y1="724.4" x2="1444.2" y2="710.6" stroke="#000" stroke-width="1.8" stroke-linecap="butt"/>
<line x1="1438.6" y1="711.0" x2="1449.8" y2="711.0" stroke="#000" stroke-width="1.9" stroke-linecap="butt"/>
<rect x="1436.45" y="724.15" width="15.40" height="35.85" fill="#fb1f10" stroke="#000" stroke-width="2.0"/>
<line x1="1490.0" y1="624.6" x2="1490.0" y2="599.4" stroke="#000" stroke-width="1.8" stroke-linecap="butt"/>
<line x1="1484.4" y1="599.8" x2="1495.6" y2="599.8" stroke="#000" stroke-width="1.9" stroke-linecap="butt"/>
<rect x="1480.7" y="623.3" width="18.6" height="136.7" fill="#000"/>
<line x1="1517.0" y1="747.0" x2="1517.0" y2="740.0" stroke="#000" stroke-width="1.8" stroke-linecap="butt"/>
<line x1="1511.4" y1="740.4" x2="1522.6" y2="740.4" stroke="#000" stroke-width="1.9" stroke-linecap="butt"/>
<rect x="1508.45" y="746.75" width="17.00" height="13.25" fill="#9b9b9b" stroke="#000" stroke-width="2.0"/>
<line x1="1544.7" y1="725.4" x2="1544.7" y2="710.4" stroke="#000" stroke-width="1.8" stroke-linecap="butt"/>
<line x1="1539.1" y1="710.8" x2="1550.3" y2="710.8" stroke="#000" stroke-width="1.9" stroke-linecap="butt"/>
<rect x="1536.45" y="725.15" width="16.40" height="34.85" fill="#4a8ff7" stroke="#000" stroke-width="2.0"/>
<line x1="1571.8" y1="630.6" x2="1571.8" y2="575.0" stroke="#000" stroke-width="1.8" stroke-linecap="butt"/>
<line x1="1566.2" y1="575.4" x2="1577.4" y2="575.4" stroke="#000" stroke-width="1.9" stroke-linecap="butt"/>
<rect x="1563.45" y="630.35" width="16.60" height="129.65" fill="#fb1f10" stroke="#000" stroke-width="2.0"/>
<line x1="1617.0" y1="732.4" x2="1617.0" y2="728.0" stroke="#000" stroke-width="1.8" stroke-linecap="butt"/>
<line x1="1611.4" y1="728.4" x2="1622.6" y2="728.4" stroke="#000" stroke-width="1.9" stroke-linecap="butt"/>
<rect x="1607.7" y="731.1" width="18.6" height="28.9" fill="#000"/>
<line x1="1644.5" y1="754.6" x2="1644.5" y2="750.6" stroke="#000" stroke-width="1.8" stroke-linecap="butt"/>
<line x1="1638.9" y1="751.0" x2="1650.1" y2="751.0" stroke="#000" stroke-width="1.9" stroke-linecap="butt"/>
<rect x="1636.05" y="754.35" width="16.80" height="5.65" fill="#9b9b9b" stroke="#000" stroke-width="2.0"/>
<line x1="1671.8" y1="754.6" x2="1671.8" y2="751.4" stroke="#000" stroke-width="1.8" stroke-linecap="butt"/>
<line x1="1666.2" y1="751.8" x2="1677.4" y2="751.8" stroke="#000" stroke-width="1.9" stroke-linecap="butt"/>
<rect x="1663.45" y="754.35" width="16.60" height="5.65" fill="#4a8ff7" stroke="#000" stroke-width="2.0"/>
<line x1="1699.3" y1="732.6" x2="1699.3" y2="727.4" stroke="#000" stroke-width="1.8" stroke-linecap="butt"/>
<line x1="1693.7" y1="727.8" x2="1704.9" y2="727.8" stroke="#000" stroke-width="1.9" stroke-linecap="butt"/>
<rect x="1691.05" y="732.35" width="16.40" height="27.65" fill="#fb1f10" stroke="#000" stroke-width="2.0"/>
<line x1="1744.6" y1="688.6" x2="1744.6" y2="684.0" stroke="#000" stroke-width="1.8" stroke-linecap="butt"/>
<line x1="1739.0" y1="684.4" x2="1750.2" y2="684.4" stroke="#000" stroke-width="1.9" stroke-linecap="butt"/>
<rect x="1735.3" y="687.3" width="18.6" height="72.7" fill="#000"/>
<line x1="1771.8" y1="741.6" x2="1771.8" y2="737.4" stroke="#000" stroke-width="1.8" stroke-linecap="butt"/>
<line x1="1766.2" y1="737.8" x2="1777.4" y2="737.8" stroke="#000" stroke-width="1.9" stroke-linecap="butt"/>
<rect x="1763.45" y="741.35" width="16.60" height="18.65" fill="#9b9b9b" stroke="#000" stroke-width="2.0"/>
<line x1="1799.3" y1="744.0" x2="1799.3" y2="739.0" stroke="#000" stroke-width="1.8" stroke-linecap="butt"/>
<line x1="1793.7" y1="739.4" x2="1804.9" y2="739.4" stroke="#000" stroke-width="1.9" stroke-linecap="butt"/>
<rect x="1791.05" y="743.75" width="16.40" height="16.25" fill="#4a8ff7" stroke="#000" stroke-width="2.0"/>
<line x1="1826.8" y1="690.0" x2="1826.8" y2="679.0" stroke="#000" stroke-width="1.8" stroke-linecap="butt"/>
<line x1="1821.2" y1="679.4" x2="1832.4" y2="679.4" stroke="#000" stroke-width="1.9" stroke-linecap="butt"/>
<rect x="1818.45" y="689.75" width="16.60" height="70.25" fill="#fb1f10" stroke="#000" stroke-width="2.0"/>
<line x1="1872.0" y1="501.6" x2="1872.0" y2="479.6" stroke="#000" stroke-width="1.8" stroke-linecap="butt"/>
<line x1="1866.4" y1="480.0" x2="1877.6" y2="480.0" stroke="#000" stroke-width="1.9" stroke-linecap="butt"/>
<rect x="1862.7" y="500.3" width="18.6" height="259.7" fill="#000"/>
<line x1="1899.3" y1="609.0" x2="1899.3" y2="579.6" stroke="#000" stroke-width="1.8" stroke-linecap="butt"/>
<line x1="1893.7" y1="580.0" x2="1904.9" y2="580.0" stroke="#000" stroke-width="1.9" stroke-linecap="butt"/>
<rect x="1891.05" y="608.75" width="16.40" height="151.25" fill="#9b9b9b" stroke="#000" stroke-width="2.0"/>
<line x1="1927.0" y1="643.6" x2="1927.0" y2="629.4" stroke="#000" stroke-width="1.8" stroke-linecap="butt"/>
<line x1="1921.4" y1="629.8" x2="1932.6" y2="629.8" stroke="#000" stroke-width="1.9" stroke-linecap="butt"/>
<rect x="1918.85" y="643.35" width="16.20" height="116.65" fill="#4a8ff7" stroke="#000" stroke-width="2.0"/>
<line x1="1954.3" y1="524.0" x2="1954.3" y2="498.4" stroke="#000" stroke-width="1.8" stroke-linecap="butt"/>
<line x1="1948.7" y1="498.8" x2="1959.9" y2="498.8" stroke="#000" stroke-width="1.9" stroke-linecap="butt"/>
<rect x="1946.05" y="523.75" width="16.40" height="236.25" fill="#fb1f10" stroke="#000" stroke-width="2.0"/>
<rect x="1341.9" y="449.4" width="3.3" height="312.2" fill="#000"/>
<rect x="1333" y="758.3" width="639" height="3.3" fill="#000"/>
<rect x="1333" y="449.4" width="10" height="3.6" fill="#000"/>
<text x="1274.67" y="460.4" font-size="23" font-weight="700" textLength="56.74" lengthAdjust="spacingAndGlyphs">1000</text>
<rect x="1333" y="511.1" width="10" height="3.6" fill="#000"/>
<text x="1289.29" y="522.1" font-size="23" font-weight="700" textLength="42.21" lengthAdjust="spacingAndGlyphs">800</text>
<rect x="1333" y="572.8" width="10" height="3.6" fill="#000"/>
<text x="1289.16" y="583.8" font-size="23" font-weight="700" textLength="42.34" lengthAdjust="spacingAndGlyphs">600</text>
<rect x="1333" y="634.6" width="10" height="3.6" fill="#000"/>
<text x="1289.67" y="645.6" font-size="23" font-weight="700" textLength="41.82" lengthAdjust="spacingAndGlyphs">400</text>
<rect x="1333" y="696.3" width="10" height="3.6" fill="#000"/>
<text x="1289.16" y="707.3" font-size="23" font-weight="700" textLength="42.34" lengthAdjust="spacingAndGlyphs">200</text>
<rect x="1333" y="758.0" width="10" height="3.6" fill="#000"/>
<text x="1316.68" y="769.0" font-size="23" font-weight="700" textLength="14.81" lengthAdjust="spacingAndGlyphs">0</text>
<rect x="1400.8" y="760" width="3.6" height="10.6" fill="#000"/>
<rect x="1528.6" y="760" width="3.6" height="10.6" fill="#000"/>
<rect x="1656.2" y="760" width="3.6" height="10.6" fill="#000"/>
<rect x="1783.6" y="760" width="3.6" height="10.6" fill="#000"/>
<rect x="1910.8" y="760" width="3.6" height="10.6" fill="#000"/>
<text x="1419.5" y="802.5" font-size="28" font-weight="700" text-anchor="middle" transform="rotate(-45 1419.5 802.5)">CT</text>
<text x="1536.5" y="800.6" font-size="28" font-weight="700" text-anchor="middle" transform="rotate(-45 1536.5 800.6)">PI</text>
<text x="1657.5" y="802.6" font-size="28" font-weight="700" text-anchor="middle" transform="rotate(-45 1657.5 802.6)">1h</text>
<text x="1793.0" y="802.6" font-size="28" font-weight="700" text-anchor="middle" transform="rotate(-45 1793.0 802.6)">4h</text>
<text x="1914.0" y="803.0" font-size="28" font-weight="700" text-anchor="middle" transform="rotate(-45 1914.0 803.0)">24h</text>
<line x1="1489.4" y1="546.9" x2="1572.0" y2="546.9" stroke="#000" stroke-width="1.7" stroke-linecap="butt"/>
<text x="1519.06" y="545.9" font-size="19.2" font-weight="700" textLength="22.35" lengthAdjust="spacingAndGlyphs">ns</text>
<line x1="1513.0" y1="567.8" x2="1572.0" y2="567.8" stroke="#000" stroke-width="1.7" stroke-linecap="butt"/>
<text x="1523.66" y="574.4" font-size="24" textLength="35.32" lengthAdjust="spacingAndGlyphs" stroke="#000" stroke-width="0.4">****</text>
<line x1="1489.0" y1="594.0" x2="1518.6" y2="594.0" stroke="#000" stroke-width="1.7" stroke-linecap="butt"/>
<text x="1487.06" y="600.8" font-size="24" textLength="35.32" lengthAdjust="spacingAndGlyphs" stroke="#000" stroke-width="0.4">****</text>
<line x1="1515.6" y1="705.0" x2="1545.0" y2="705.0" stroke="#000" stroke-width="1.7" stroke-linecap="butt"/>
<text x="1519.80" y="702.5" font-size="19.2" font-weight="700" textLength="21.58" lengthAdjust="spacingAndGlyphs">ns</text>
<line x1="1617.4" y1="691.0" x2="1700.0" y2="691.0" stroke="#000" stroke-width="1.7" stroke-linecap="butt"/>
<text x="1647.39" y="689.5" font-size="19.2" font-weight="700" textLength="21.80" lengthAdjust="spacingAndGlyphs">ns</text>
<line x1="1616.6" y1="723.0" x2="1646.6" y2="723.0" stroke="#000" stroke-width="1.7" stroke-linecap="butt"/>
<text x="1620.20" y="719.5" font-size="19.2" font-weight="700" textLength="21.58" lengthAdjust="spacingAndGlyphs">ns</text>
<line x1="1642.6" y1="744.0" x2="1672.6" y2="744.0" stroke="#000" stroke-width="1.7" stroke-linecap="butt"/>
<text x="1646.39" y="741.1" font-size="19.2" font-weight="700" textLength="21.80" lengthAdjust="spacingAndGlyphs">ns</text>
<line x1="1670.4" y1="722.0" x2="1700.4" y2="722.0" stroke="#000" stroke-width="1.7" stroke-linecap="butt"/>
<text x="1673.77" y="718.9" font-size="19.2" font-weight="700" textLength="22.02" lengthAdjust="spacingAndGlyphs">ns</text>
<line x1="1741.6" y1="653.4" x2="1824.4" y2="653.4" stroke="#000" stroke-width="1.7" stroke-linecap="butt"/>
<text x="1771.39" y="651.9" font-size="19.2" font-weight="700" textLength="21.80" lengthAdjust="spacingAndGlyphs">ns</text>
<line x1="1742.4" y1="679.6" x2="1772.4" y2="679.6" stroke="#000" stroke-width="1.7" stroke-linecap="butt"/>
<text x="1747.26" y="686.8" font-size="24" textLength="17.43" lengthAdjust="spacingAndGlyphs" stroke="#000" stroke-width="0.4">**</text>
<line x1="1798.4" y1="673.8" x2="1828.0" y2="673.8" stroke="#000" stroke-width="1.7" stroke-linecap="butt"/>
<text x="1803.26" y="680.8" font-size="24" textLength="17.64" lengthAdjust="spacingAndGlyphs" stroke="#000" stroke-width="0.4">**</text>
<line x1="1771.0" y1="732.6" x2="1801.0" y2="732.6" stroke="#000" stroke-width="1.7" stroke-linecap="butt"/>
<text x="1775.80" y="730.5" font-size="19.2" font-weight="700" textLength="21.58" lengthAdjust="spacingAndGlyphs">ns</text>
<line x1="1872.0" y1="456.4" x2="1954.4" y2="456.4" stroke="#000" stroke-width="1.7" stroke-linecap="butt"/>
<text x="1901.77" y="455.1" font-size="19.2" font-weight="700" textLength="22.02" lengthAdjust="spacingAndGlyphs">ns</text>
<line x1="1871.0" y1="476.0" x2="1901.0" y2="476.0" stroke="#000" stroke-width="1.7" stroke-linecap="butt"/>
<text x="1869.66" y="483.0" font-size="24" textLength="35.11" lengthAdjust="spacingAndGlyphs" stroke="#000" stroke-width="0.4">****</text>
<line x1="1896.0" y1="489.6" x2="1954.4" y2="489.6" stroke="#000" stroke-width="1.7" stroke-linecap="butt"/>
<text x="1906.26" y="496.6" font-size="24" textLength="35.11" lengthAdjust="spacingAndGlyphs" stroke="#000" stroke-width="0.4">****</text>
<line x1="1901.0" y1="573.4" x2="1930.4" y2="573.4" stroke="#000" stroke-width="1.7" stroke-linecap="butt"/>
<text x="1905.20" y="572.1" font-size="19.2" font-weight="700" textLength="21.58" lengthAdjust="spacingAndGlyphs">ns</text>
<rect x="1333" y="840" width="24" height="23" fill="#000"/>
<rect x="1448.8" y="840.9" width="22.4" height="21" fill="#9b9b9b" stroke="#000" stroke-width="1.8"/>
<rect x="1629.2" y="841.2" width="22.8" height="20.4" fill="#4a8ff7" stroke="#000" stroke-width="1.8"/>
<rect x="1784.5" y="840.9" width="21.6" height="21.2" fill="#fb1f10" stroke="#000" stroke-width="1.8"/>
<text x="1362.67" y="856.0" font-size="21.8" font-weight="700" textLength="77.20" lengthAdjust="spacingAndGlyphs">NTC KD</text>
<text x="1485.10" y="856.0" font-size="21.8" font-weight="700" textLength="115.65" lengthAdjust="spacingAndGlyphs">iRhom2 KD</text>
<text x="1660.80" y="856.0" font-size="21.8" font-weight="700" textLength="86.60" lengthAdjust="spacingAndGlyphs">TACE KD</text>
<text x="1814.53" y="856.0" font-size="21.8" font-weight="700" textLength="119.81" lengthAdjust="spacingAndGlyphs">Marimastat</text>
</g>
</svg>
</body></html>
